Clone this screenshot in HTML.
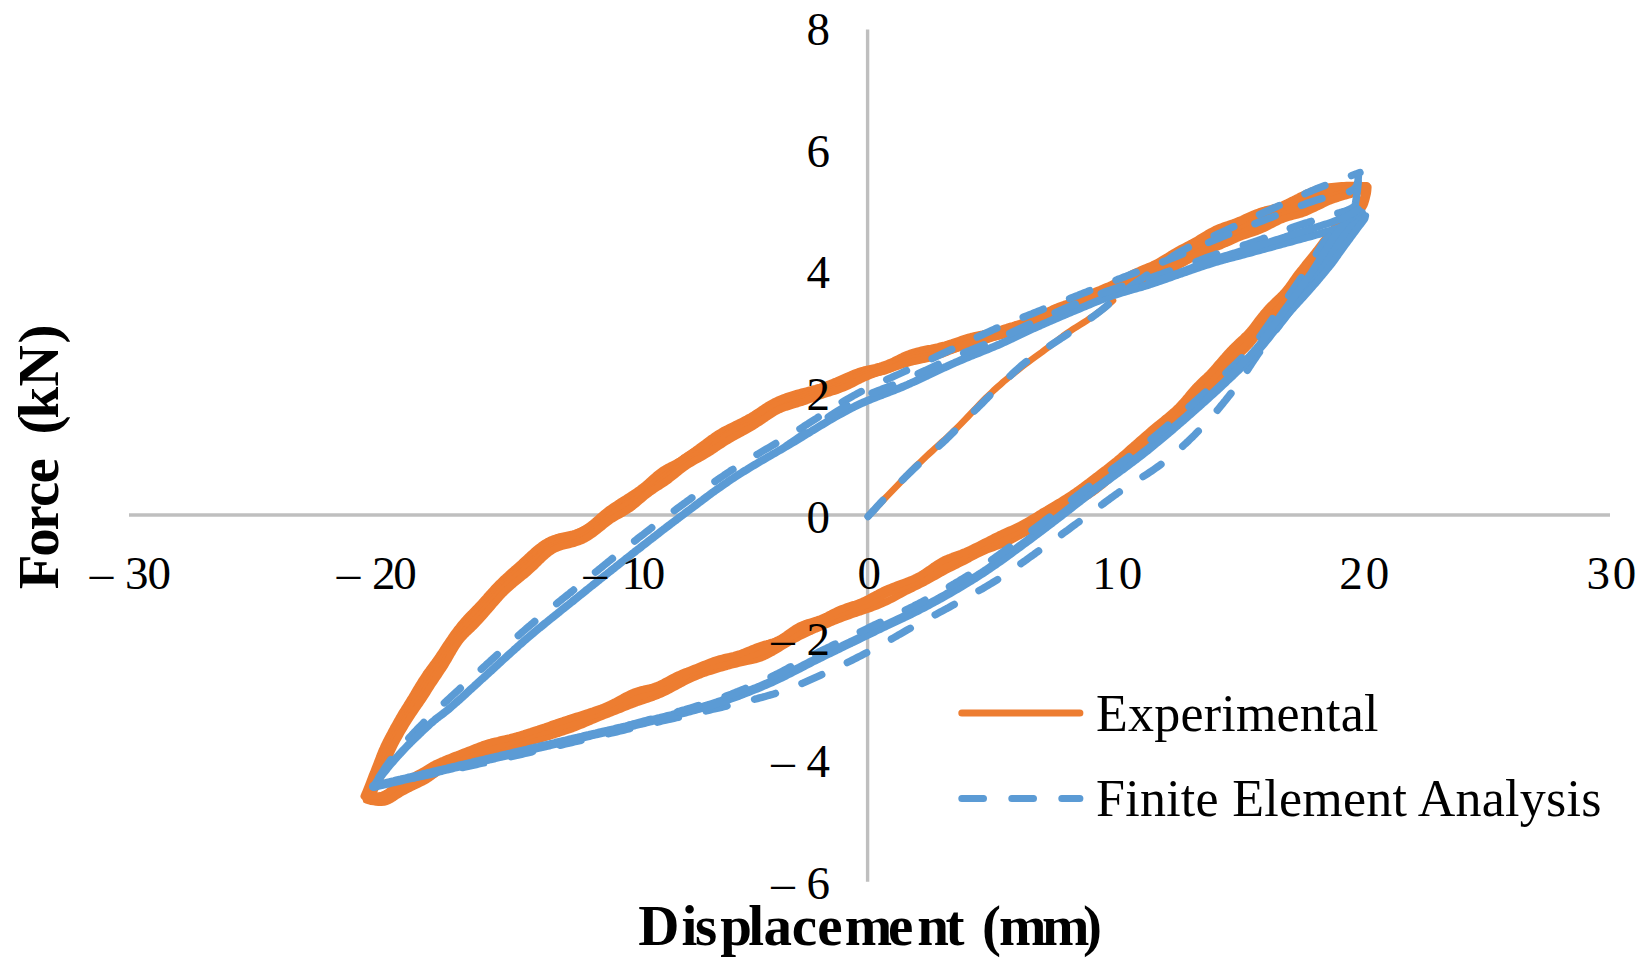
<!DOCTYPE html>
<html lang="en"><head><meta charset="utf-8"><title>Force vs Displacement</title>
<style>
html,body{margin:0;padding:0;background:#fff;}
body{width:1649px;height:974px;overflow:hidden;font-family:"Liberation Serif","Times New Roman",serif;}
svg{display:block;}
.c path{fill:none;stroke-linecap:round;stroke-linejoin:round;}
text{font-family:"Liberation Serif","Times New Roman",serif;fill:#000;}
.tk text{font-size:47px;}
.ttl{font-weight:bold;font-size:57px;}
.lg{font-size:52px;}
</style></head><body>
<svg width="1649" height="974" viewBox="0 0 1649 974">
<rect width="1649" height="974" fill="#fff"/>
<g stroke="#BFBFBF" stroke-width="3.4" fill="none">
<line x1="129" y1="515" x2="1610" y2="515"/>
<line x1="867.6" y1="29.6" x2="867.6" y2="881.8"/>
</g>
<g class="c">
<path d="M868.0,516.5 L870.8,513.4 L873.6,510.4 L876.4,507.4 L879.2,504.4 L882.0,501.4 L884.9,498.4 L887.7,495.5 L890.6,492.5 L893.5,489.5 L896.4,486.5 L899.3,483.4 L902.2,480.4 L905.1,477.3 L908.0,474.3 L911.0,471.2 L914.0,468.2 L917.0,465.2 L920.1,462.3 L923.2,459.3 L926.3,456.4 L929.4,453.5 L932.5,450.7 L935.5,447.9 L938.6,445.1 L941.7,442.3 L944.7,439.6 L947.7,436.8 L950.6,434.0 L953.6,431.2 L956.5,428.4 L959.4,425.5 L962.3,422.5 L965.2,419.5 L968.2,416.4 L971.1,413.3 L974.0,410.2 L976.9,407.2 L979.9,404.1 L982.8,401.1 L985.7,398.2 L988.7,395.3 L991.6,392.5 L994.5,389.7 L997.5,387.0 L1000.5,384.4 L1003.4,381.8 L1006.5,379.3 L1009.5,376.8 L1012.5,374.3 L1015.6,371.9 L1018.7,369.4 L1021.8,367.0 L1025.0,364.5 L1028.2,362.1 L1031.5,359.7 L1034.9,357.2 L1038.4,354.6 L1041.9,352.1 L1045.4,349.4 L1048.9,346.8 L1052.4,344.2 L1055.9,341.5 L1059.4,338.9 L1062.8,336.3 L1066.3,333.8 L1069.7,331.4 L1073.2,329.1 L1076.6,326.9 L1080.1,324.7 L1083.5,322.6 L1086.9,320.4 L1090.3,318.1 L1093.6,315.9 L1097.0,313.5 L1100.3,311.1 L1103.5,308.6 L1106.7,306.0 L1109.9,303.3 L1113.0,300.5" stroke="#ED7D31" stroke-width="6.6"/>
<path d="M1366.6,185.6 L1364.1,185.6 L1361.6,185.6 L1359.1,185.6 L1356.6,185.6 L1354.2,185.5 L1351.7,185.5 L1349.2,185.4 L1346.7,185.5 L1344.2,185.7 L1341.7,185.8 L1339.2,186.0 L1336.8,186.2 L1334.3,186.4 L1331.8,186.6 L1329.3,186.9 L1326.9,187.2 L1324.4,187.6 L1321.9,188.0 L1319.5,188.5 L1317.0,189.1 L1314.6,189.9 L1312.1,190.8 L1309.8,191.8 L1307.4,192.8 L1305.1,193.9 L1302.7,195.0 L1300.4,196.1 L1298.2,197.3 L1295.9,198.4 L1293.7,199.6 L1291.4,200.7 L1289.2,201.8 L1287.0,202.9 L1284.8,203.9 L1282.7,204.9 L1280.5,205.7 L1278.3,206.5 L1276.1,207.2 L1273.9,207.8 L1271.6,208.5 L1269.3,209.0 L1267.1,209.6 L1264.8,210.2 L1262.5,210.9 L1260.2,211.6 L1257.9,212.4 L1255.6,213.3 L1253.3,214.2 L1251.1,215.2 L1248.8,216.2 L1246.5,217.2 L1244.2,218.2 L1242.0,219.3 L1239.7,220.3 L1237.4,221.2 L1235.1,222.1 L1232.8,223.0 L1230.6,223.8 L1228.3,224.6 L1226.0,225.3 L1223.7,226.1 L1221.5,226.9 L1219.2,227.8 L1217.0,228.7 L1214.7,229.7 L1212.5,230.9 L1210.3,232.1 L1208.1,233.3 L1205.9,234.6 L1203.8,235.9 L1201.6,237.2 L1199.5,238.5 L1197.4,239.8 L1195.2,241.1 L1193.1,242.2 L1191.0,243.4 L1188.9,244.5 L1186.8,245.6 L1184.7,246.7 L1182.6,247.8 L1180.5,248.9 L1178.4,250.0 L1176.3,251.2 L1174.2,252.4 L1172.1,253.7 L1169.9,255.0 L1167.8,256.4 L1165.6,257.7 L1163.5,259.0 L1161.3,260.3 L1159.2,261.6 L1157.0,262.7 L1154.8,263.8 L1152.7,264.9 L1150.5,265.8 L1148.3,266.7 L1146.2,267.6 L1144.0,268.5 L1141.8,269.4 L1139.6,270.4 L1137.4,271.3 L1135.2,272.3 L1133.0,273.4 L1130.8,274.5 L1128.6,275.7 L1126.4,276.9 L1124.2,278.1 L1122.0,279.2 L1119.8,280.4 L1117.6,281.6 L1115.4,282.7 L1113.1,283.7 L1110.9,284.8 L1108.7,285.8 L1106.5,286.7 L1104.2,287.7 L1102.0,288.6 L1099.8,289.6 L1097.6,290.5 L1095.3,291.5 L1093.1,292.5 L1090.9,293.5 L1088.7,294.6 L1086.4,295.6 L1084.2,296.7 L1082.0,297.7 L1079.8,298.7 L1077.6,299.7 L1075.4,300.6 L1073.2,301.4 L1070.9,302.2 L1068.7,303.0 L1066.5,303.7 L1064.3,304.4 L1062.1,305.2 L1059.9,306.0 L1057.7,306.8 L1055.5,307.7 L1053.3,308.6 L1051.1,309.7 L1048.9,310.8 L1046.7,311.9 L1044.5,313.0 L1042.3,314.2 L1040.1,315.3 L1037.8,316.5 L1035.6,317.5 L1033.4,318.5 L1031.1,319.5 L1028.8,320.4 L1026.6,321.2 L1024.3,322.0 L1022.0,322.7 L1019.7,323.5 L1017.4,324.2 L1015.1,324.9 L1012.7,325.7 L1010.4,326.4 L1008.1,327.1 L1005.8,327.9 L1003.4,328.6 L1001.1,329.4 L998.8,330.1 L996.4,330.8 L994.1,331.4 L991.7,332.0 L989.4,332.6 L987.1,333.2 L984.7,333.7 L982.4,334.2 L980.1,334.6 L977.8,335.1 L975.4,335.6 L973.1,336.2 L970.8,336.7 L968.4,337.4 L966.1,338.1 L963.8,338.8 L961.4,339.6 L959.1,340.4 L956.8,341.2 L954.4,342.0 L952.1,342.8 L949.8,343.5 L947.4,344.3 L945.1,345.0 L942.7,345.6 L940.4,346.2 L938.1,346.8 L935.7,347.3 L933.4,347.8 L931.1,348.3 L928.7,348.7 L926.3,349.2 L924.0,349.7 L921.6,350.2 L919.2,350.8 L916.8,351.4 L914.4,352.0 L912.0,352.8 L909.6,353.6 L907.3,354.5 L904.9,355.5 L902.6,356.5 L900.3,357.6 L898.1,358.7 L895.8,359.8 L893.5,361.0 L891.3,362.0 L889.0,363.0 L886.8,364.0 L884.5,364.8 L882.2,365.6 L879.9,366.3 L877.6,366.9 L875.3,367.5 L873.0,368.0 L870.6,368.5 L868.3,369.0 L866.0,369.6 L863.7,370.2 L861.4,370.9 L859.0,371.6 L856.7,372.4 L854.4,373.3 L852.2,374.2 L849.9,375.2 L847.6,376.1 L845.3,377.1 L843.1,378.1 L840.8,379.1 L838.5,380.1 L836.2,381.1 L833.9,382.0 L831.7,383.0 L829.4,383.9 L827.1,384.8 L824.8,385.6 L822.5,386.4 L820.2,387.2 L817.9,387.9 L815.6,388.6 L813.3,389.2 L811.0,389.8 L808.7,390.4 L806.4,391.0 L804.1,391.6 L801.8,392.2 L799.6,392.8 L797.3,393.4 L795.0,394.1 L792.6,394.8 L790.3,395.5 L787.9,396.3 L785.5,397.1 L783.1,398.0 L780.8,398.9 L778.4,399.9 L776.0,401.0 L773.7,402.1 L771.4,403.4 L769.2,404.7 L767.0,406.0 L764.9,407.4 L762.8,408.8 L760.7,410.2 L758.7,411.6 L756.7,412.9 L754.7,414.2 L752.7,415.5 L750.7,416.7 L748.6,417.8 L746.5,419.0 L744.4,420.1 L742.3,421.2 L740.1,422.3 L738.0,423.4 L735.8,424.4 L733.6,425.5 L731.5,426.5 L729.3,427.6 L727.1,428.7 L725.0,429.8 L722.9,430.9 L720.8,432.2 L718.7,433.4 L716.6,434.7 L714.6,436.1 L712.6,437.5 L710.5,438.9 L708.5,440.4 L706.5,441.9 L704.5,443.4 L702.4,444.9 L700.4,446.4 L698.4,448.0 L696.3,449.5 L694.3,451.1 L692.2,452.6 L690.2,454.1 L688.1,455.6 L686.1,457.0 L684.0,458.4 L682.0,459.7 L679.9,460.9 L677.9,462.1 L675.8,463.2 L673.8,464.2 L671.8,465.2 L669.8,466.3 L667.8,467.3 L665.8,468.4 L663.8,469.6 L661.8,470.9 L659.8,472.4 L657.9,473.9 L655.9,475.5 L653.9,477.2 L651.9,479.0 L650.0,480.7 L648.0,482.5 L646.0,484.2 L644.1,485.9 L642.1,487.4 L640.1,489.0 L638.2,490.4 L636.2,491.8 L634.2,493.1 L632.2,494.5 L630.3,495.7 L628.3,497.0 L626.3,498.2 L624.4,499.5 L622.4,500.7 L620.4,501.9 L618.5,503.2 L616.5,504.5 L614.5,505.8 L612.6,507.1 L610.6,508.5 L608.6,509.9 L606.6,511.5 L604.5,513.1 L602.5,514.8 L600.5,516.5 L598.6,518.3 L596.6,520.0 L594.6,521.8 L592.7,523.4 L590.7,525.0 L588.7,526.5 L586.8,527.9 L584.8,529.1 L582.8,530.2 L580.9,531.2 L578.9,532.1 L576.9,532.8 L574.8,533.5 L572.7,534.1 L570.5,534.6 L568.2,535.1 L565.9,535.6 L563.5,536.1 L561.1,536.6 L558.7,537.2 L556.3,537.9 L553.9,538.7 L551.6,539.6 L549.3,540.7 L547.0,541.9 L544.8,543.2 L542.7,544.6 L540.6,546.1 L538.5,547.7 L536.4,549.4 L534.4,551.1 L532.4,552.9 L530.5,554.6 L528.5,556.4 L526.6,558.2 L524.7,559.9 L522.8,561.7 L521.0,563.4 L519.2,565.0 L517.3,566.7 L515.5,568.3 L513.6,569.9 L511.8,571.5 L510.0,573.1 L508.2,574.8 L506.4,576.4 L504.7,578.0 L502.9,579.6 L501.2,581.3 L499.5,583.0 L497.7,584.7 L496.0,586.5 L494.3,588.3 L492.7,590.1 L491.0,592.0 L489.3,593.9 L487.6,595.7 L486.0,597.6 L484.3,599.5 L482.6,601.4 L481.0,603.2 L479.3,605.0 L477.6,606.8 L475.9,608.5 L474.3,610.2 L472.6,612.0 L471.0,613.7 L469.3,615.4 L467.7,617.1 L466.0,618.9 L464.4,620.7 L462.8,622.6 L461.2,624.5 L459.6,626.4 L458.1,628.4 L456.5,630.4 L455.0,632.4 L453.5,634.5 L452.0,636.6 L450.6,638.7 L449.1,640.9 L447.7,643.0 L446.2,645.2 L444.8,647.3 L443.4,649.5 L442.1,651.6 L440.7,653.7 L439.3,655.7 L438.0,657.7 L436.6,659.6 L435.3,661.5 L434.0,663.3 L432.6,665.1 L431.3,666.9 L430.0,668.7 L428.7,670.5 L427.3,672.3 L426.0,674.2 L424.7,676.2 L423.4,678.2 L422.0,680.3 L420.7,682.4 L419.4,684.6 L418.0,686.8 L416.7,689.0 L415.4,691.2 L414.1,693.4 L412.9,695.5 L411.6,697.6 L410.3,699.6 L409.1,701.6 L407.8,703.7 L406.6,705.7 L405.3,707.7 L404.1,709.7 L402.8,711.7 L401.6,713.7 L400.4,715.8 L399.1,718.0 L397.9,720.2 L396.6,722.4 L395.4,724.6 L394.1,726.8 L392.9,729.1 L391.7,731.3 L390.6,733.5 L389.4,735.6 L388.3,737.7 L387.2,739.9 L386.1,742.0 L385.1,744.1 L384.1,746.2 L383.2,748.3 L382.2,750.4 L381.3,752.6 L380.4,754.8 L379.6,757.1 L378.7,759.4 L377.8,761.7 L376.9,764.0 L376.0,766.3 L375.1,768.6 L374.2,771.0 L373.3,773.3 L372.3,775.6 L371.4,778.0 L370.5,780.3 L369.6,782.7 L368.7,785.0 L367.8,787.3 L366.9,789.6 L366.0,791.8 L365.1,794.0 L364.2,796.2" stroke="#ED7D31" stroke-width="7.4"/>
<path d="M1366.7,187.0 L1364.3,187.4 L1361.8,187.8 L1359.3,188.1 L1356.9,188.3 L1354.5,188.5 L1352.0,188.6 L1349.6,188.7 L1347.1,188.9 L1344.7,189.1 L1342.3,189.2 L1339.8,189.4 L1337.4,189.5 L1335.0,189.7 L1332.5,189.9 L1330.1,190.1 L1327.7,190.4 L1325.3,190.7 L1322.9,191.1 L1320.5,191.6 L1318.1,192.1 L1315.8,192.9 L1313.4,193.7 L1311.1,194.6 L1308.8,195.6 L1306.5,196.6 L1304.2,197.7 L1302.0,198.9 L1299.7,200.1 L1297.5,201.3 L1295.2,202.5 L1293.0,203.7 L1290.8,205.0 L1288.6,206.1 L1286.3,207.2 L1284.1,208.2 L1281.9,209.2 L1279.7,210.0 L1277.5,210.7 L1275.2,211.3 L1273.0,211.9 L1270.7,212.4 L1268.4,212.9 L1266.1,213.4 L1263.8,214.0 L1261.6,214.7 L1259.3,215.4 L1257.0,216.2 L1254.7,217.1 L1252.5,218.1 L1250.2,219.2 L1247.9,220.3 L1245.7,221.4 L1243.4,222.5 L1241.1,223.6 L1238.9,224.7 L1236.6,225.8 L1234.3,226.8 L1232.1,227.8 L1229.8,228.8 L1227.5,229.7 L1225.3,230.7 L1223.1,231.7 L1220.8,232.7 L1218.6,233.7 L1216.4,234.9 L1214.1,236.1 L1212.0,237.3 L1209.8,238.6 L1207.6,239.9 L1205.4,241.2 L1203.3,242.5 L1201.1,243.9 L1199.0,245.2 L1196.9,246.4 L1194.7,247.7 L1192.6,248.8 L1190.5,250.0 L1188.4,251.1 L1186.2,252.2 L1184.1,253.3 L1182.0,254.3 L1179.8,255.3 L1177.7,256.3 L1175.5,257.3 L1173.4,258.3 L1171.2,259.2 L1169.0,260.2 L1166.9,261.2 L1164.7,262.2 L1162.5,263.2 L1160.4,264.2 L1158.2,265.2 L1156.0,266.2 L1153.8,267.2 L1151.6,268.3 L1149.4,269.3 L1147.2,270.3 L1145.0,271.4 L1142.8,272.4 L1140.6,273.4 L1138.4,274.4 L1136.2,275.4 L1134.0,276.4 L1131.8,277.3 L1129.6,278.2 L1127.4,279.2 L1125.1,280.2 L1122.9,281.1 L1120.7,282.2 L1118.5,283.2 L1116.2,284.3 L1114.0,285.4 L1111.8,286.6 L1109.5,287.8 L1107.3,289.0 L1105.1,290.2 L1102.8,291.3 L1100.6,292.5 L1098.4,293.5 L1096.1,294.6 L1093.9,295.5 L1091.7,296.4 L1089.4,297.2 L1087.2,298.0 L1085.0,298.8 L1082.8,299.5 L1080.6,300.3 L1078.3,301.1 L1076.1,302.0 L1073.9,302.9 L1071.7,303.8 L1069.5,304.8 L1067.3,305.8 L1065.1,306.9 L1062.9,307.9 L1060.7,309.0 L1058.5,310.1 L1056.3,311.2 L1054.1,312.3 L1051.9,313.4 L1049.6,314.4 L1047.4,315.5 L1045.2,316.5 L1043.0,317.5 L1040.7,318.4 L1038.5,319.3 L1036.2,320.2 L1034.0,321.0 L1031.7,321.8 L1029.4,322.5 L1027.1,323.2 L1024.8,323.9 L1022.5,324.6 L1020.2,325.3 L1017.9,326.0 L1015.6,326.6 L1013.3,327.3 L1010.9,328.0 L1008.6,328.7 L1006.3,329.4 L1003.9,330.1 L1001.6,330.8 L999.3,331.5 L996.9,332.2 L994.6,332.8 L992.3,333.5 L989.9,334.1 L987.6,334.7 L985.3,335.3 L982.9,335.8 L980.6,336.4 L978.3,337.0 L975.9,337.5 L973.6,338.2 L971.3,338.8 L968.9,339.5 L966.6,340.2 L964.3,341.0 L961.9,341.8 L959.6,342.6 L957.3,343.4 L954.9,344.2 L952.6,345.0 L950.2,345.7 L947.9,346.4 L945.6,347.1 L943.2,347.7 L940.9,348.2 L938.5,348.8 L936.2,349.3 L933.8,349.8 L931.5,350.3 L929.1,350.9 L926.8,351.4 L924.4,352.1 L922.0,352.8 L919.6,353.5 L917.3,354.3 L914.9,355.2 L912.5,356.1 L910.2,357.0 L907.9,358.0 L905.6,359.0 L903.3,359.9 L901.0,360.8 L898.7,361.7 L896.4,362.5 L894.2,363.3 L891.9,364.1 L889.6,364.9 L887.4,365.5 L885.1,366.2 L882.8,366.9 L880.5,367.6 L878.2,368.2 L875.9,368.9 L873.5,369.5 L871.2,370.2 L868.9,371.0 L866.6,371.7 L864.3,372.5 L862.0,373.4 L859.7,374.3 L857.4,375.2 L855.1,376.2 L852.9,377.1 L850.6,378.1 L848.3,379.1 L846.0,380.0 L843.8,380.8 L841.5,381.7 L839.2,382.4 L836.9,383.2 L834.7,383.8 L832.4,384.5 L830.1,385.2 L827.8,385.9 L825.5,386.6 L823.2,387.3 L820.9,388.1 L818.6,389.0 L816.3,389.9 L814.0,390.8 L811.8,391.8 L809.5,392.8 L807.2,393.7 L804.9,394.7 L802.6,395.6 L800.3,396.4 L798.0,397.2 L795.6,397.8 L793.3,398.4 L790.9,399.0 L788.6,399.5 L786.2,400.1 L783.9,400.7 L781.6,401.4 L779.3,402.2 L777.0,403.2 L774.7,404.3 L772.5,405.5 L770.4,406.9 L768.2,408.3 L766.2,409.7 L764.1,411.2 L762.0,412.6 L760.0,414.0 L758.0,415.3 L756.0,416.5 L753.9,417.5 L751.9,418.5 L749.8,419.4 L747.7,420.3 L745.5,421.2 L743.4,422.2 L741.2,423.2 L739.1,424.2 L736.9,425.4 L734.8,426.7 L732.6,428.0 L730.5,429.4 L728.3,430.9 L726.2,432.4 L724.1,433.9 L722.1,435.4 L720.0,436.8 L717.9,438.1 L715.9,439.4 L713.9,440.6 L711.8,441.8 L709.8,442.9 L707.8,444.0 L705.8,445.0 L703.7,446.1 L701.7,447.2 L699.7,448.2 L697.6,449.4 L695.6,450.5 L693.5,451.8 L691.5,453.0 L689.4,454.3 L687.4,455.6 L685.3,457.0 L683.3,458.4 L681.3,459.9 L679.2,461.4 L677.2,463.0 L675.2,464.6 L673.2,466.2 L671.2,467.8 L669.2,469.4 L667.2,471.0 L665.2,472.5 L663.2,474.0 L661.3,475.5 L659.3,476.9 L657.3,478.3 L655.4,479.7 L653.4,481.0 L651.4,482.3 L649.5,483.7 L647.5,485.0 L645.5,486.4 L643.6,487.7 L641.6,489.2 L639.6,490.6 L637.6,492.1 L635.7,493.6 L633.7,495.1 L631.7,496.7 L629.7,498.3 L627.8,500.0 L625.8,501.6 L623.8,503.4 L621.9,505.1 L619.9,506.8 L617.9,508.5 L616.0,510.1 L614.0,511.7 L612.0,513.3 L610.0,514.7 L608.0,516.1 L606.0,517.4 L604.0,518.6 L602.0,519.7 L600.0,520.8 L598.0,521.9 L596.1,522.9 L594.1,524.0 L592.1,525.0 L590.1,526.1 L588.1,527.2 L586.1,528.3 L584.1,529.5 L582.0,530.6 L580.0,531.7 L577.9,532.7 L575.8,533.7 L573.5,534.7 L571.3,535.6 L569.0,536.5 L566.6,537.3 L564.3,538.2 L561.9,539.1 L559.6,540.0 L557.2,540.9 L554.9,541.9 L552.6,543.0 L550.4,544.1 L548.3,545.4 L546.1,546.7 L544.0,548.0 L542.0,549.5 L540.0,550.9 L537.9,552.4 L536.0,554.0 L534.0,555.5 L532.1,557.1 L530.2,558.7 L528.3,560.3 L526.4,561.9 L524.5,563.4 L522.7,565.0 L520.8,566.5 L519.0,568.1 L517.2,569.6 L515.4,571.1 L513.6,572.7 L511.8,574.3 L510.0,576.0 L508.2,577.7 L506.5,579.4 L504.7,581.1 L503.0,582.8 L501.3,584.6 L499.6,586.4 L497.9,588.2 L496.2,590.0 L494.5,591.9 L492.8,593.7 L491.2,595.6 L489.5,597.5 L487.8,599.4 L486.2,601.2 L484.5,603.1 L482.8,604.9 L481.2,606.8 L479.5,608.6 L477.8,610.5 L476.2,612.3 L474.5,614.1 L472.9,615.9 L471.2,617.7 L469.6,619.4 L468.0,621.2 L466.4,622.9 L464.8,624.6 L463.2,626.3 L461.6,628.0 L460.1,629.7 L458.6,631.4 L457.0,633.2 L455.6,635.0 L454.1,636.8 L452.6,638.7 L451.2,640.7 L449.8,642.7 L448.4,644.8 L447.0,646.9 L445.6,649.0 L444.2,651.2 L442.8,653.3 L441.5,655.5 L440.1,657.7 L438.8,659.8 L437.5,662.0 L436.1,664.1 L434.8,666.2 L433.5,668.3 L432.2,670.3 L430.8,672.3 L429.5,674.3 L428.2,676.3 L426.9,678.2 L425.5,680.1 L424.2,682.0 L422.9,683.9 L421.5,685.8 L420.2,687.7 L418.9,689.6 L417.6,691.6 L416.3,693.6 L415.0,695.7 L413.7,697.9 L412.5,700.1 L411.2,702.3 L409.9,704.6 L408.6,706.9 L407.4,709.1 L406.1,711.3 L404.9,713.5 L403.6,715.6 L402.4,717.7 L401.1,719.7 L399.8,721.6 L398.6,723.6 L397.3,725.5 L396.1,727.5 L394.9,729.5 L393.7,731.5 L392.5,733.6 L391.3,735.8 L390.2,738.1 L389.1,740.5 L388.1,742.9 L387.0,745.4 L386.1,747.9 L385.1,750.3 L384.2,752.8 L383.2,755.2 L382.3,757.6 L381.4,759.9 L380.5,762.2 L379.7,764.4 L378.8,766.6 L377.8,768.7 L376.9,770.8 L376.0,772.9 L375.0,775.0 L374.1,777.0 L373.1,779.1 L372.1,781.2 L371.2,783.4 L370.2,785.5 L369.3,787.7 L368.3,789.9 L367.3,792.2 L366.3,794.6 L365.3,797.0" stroke="#ED7D31" stroke-width="7.4"/>
<path d="M1366.8,186.5 L1364.4,187.1 L1362.0,187.6 L1359.6,188.1 L1357.2,188.6 L1354.7,189.0 L1352.4,189.4 L1350.0,189.7 L1347.6,190.0 L1345.2,190.4 L1342.8,190.7 L1340.4,191.0 L1338.0,191.3 L1335.7,191.7 L1333.3,192.0 L1330.9,192.4 L1328.6,192.9 L1326.2,193.4 L1323.9,193.9 L1321.6,194.5 L1319.3,195.1 L1317.0,195.9 L1314.7,196.7 L1312.5,197.7 L1310.2,198.7 L1307.9,199.7 L1305.7,200.8 L1303.5,202.0 L1301.2,203.2 L1299.0,204.5 L1296.8,205.7 L1294.6,207.0 L1292.3,208.2 L1290.1,209.4 L1287.9,210.5 L1285.6,211.5 L1283.4,212.5 L1281.1,213.3 L1278.9,214.0 L1276.6,214.6 L1274.3,215.1 L1272.0,215.6 L1269.8,216.1 L1267.5,216.6 L1265.2,217.3 L1262.9,218.0 L1260.7,218.8 L1258.4,219.8 L1256.1,220.9 L1253.9,222.2 L1251.6,223.4 L1249.3,224.7 L1247.1,226.0 L1244.8,227.3 L1242.6,228.5 L1240.3,229.6 L1238.1,230.5 L1235.8,231.3 L1233.6,232.0 L1231.3,232.6 L1229.1,233.2 L1226.8,233.8 L1224.6,234.4 L1222.4,235.1 L1220.2,235.9 L1218.0,236.9 L1215.8,238.0 L1213.6,239.2 L1211.5,240.6 L1209.3,242.0 L1207.1,243.5 L1205.0,245.0 L1202.8,246.4 L1200.7,247.8 L1198.5,249.1 L1196.4,250.2 L1194.2,251.3 L1192.1,252.3 L1189.9,253.2 L1187.8,254.1 L1185.6,255.0 L1183.4,255.8 L1181.3,256.7 L1179.1,257.7 L1176.9,258.7 L1174.7,259.9 L1172.5,261.1 L1170.3,262.3 L1168.1,263.6 L1165.9,264.8 L1163.7,266.1 L1161.6,267.4 L1159.4,268.6 L1157.1,269.7 L1154.9,270.9 L1152.7,271.9 L1150.5,272.9 L1148.3,273.9 L1146.1,274.8 L1143.9,275.7 L1141.7,276.5 L1139.4,277.3 L1137.2,278.0 L1135.0,278.8 L1132.8,279.5 L1130.5,280.2 L1128.3,280.9 L1126.1,281.7 L1123.8,282.5 L1121.6,283.3 L1119.3,284.2 L1117.1,285.2 L1114.8,286.3 L1112.6,287.4 L1110.4,288.6 L1108.1,289.8 L1105.9,291.1 L1103.6,292.4 L1101.4,293.7 L1099.1,294.9 L1096.9,296.1 L1094.7,297.3 L1092.4,298.4 L1090.2,299.5 L1088.0,300.5 L1085.8,301.5 L1083.5,302.5 L1081.3,303.4 L1079.1,304.4 L1076.9,305.3 L1074.7,306.2 L1072.5,307.1 L1070.3,308.0 L1068.1,308.8 L1065.9,309.7 L1063.7,310.6 L1061.4,311.4 L1059.2,312.3 L1057.0,313.2 L1054.8,314.1 L1052.6,315.0 L1050.3,315.9 L1048.1,316.8 L1045.9,317.7 L1043.6,318.6 L1041.4,319.5 L1039.1,320.4 L1036.9,321.3 L1034.6,322.1 L1032.3,323.0 L1030.0,323.8 L1027.7,324.6 L1025.4,325.4 L1023.1,326.2 L1020.8,327.0 L1018.4,327.7 L1016.1,328.4 L1013.8,329.0 L1011.5,329.6 L1009.1,330.2 L1006.8,330.7 L1004.5,331.3 L1002.1,331.8 L999.8,332.4 L997.4,333.0 L995.1,333.7 L992.8,334.4 L990.4,335.3 L988.1,336.1 L985.8,337.1 L983.4,338.0 L981.1,339.0 L978.8,339.9 L976.4,340.8 L974.1,341.7 L971.8,342.5 L969.4,343.2 L967.1,343.8 L964.8,344.4 L962.4,344.9 L960.1,345.3 L957.7,345.8 L955.4,346.2 L953.1,346.6 L950.7,347.1 L948.4,347.7 L946.0,348.2 L943.7,348.9 L941.3,349.6 L939.0,350.3 L936.6,351.0 L934.3,351.7 L931.9,352.3 L929.5,352.9 L927.2,353.5 L924.8,354.1 L922.4,354.6 L920.1,355.2 L917.7,355.7 L915.4,356.2 L913.1,356.8 L910.8,357.5 L908.5,358.2 L906.2,358.9 L903.9,359.7 L901.6,360.6 L899.4,361.5 L897.1,362.4 L894.8,363.4 L892.5,364.3 L890.2,365.1 L887.9,366.0 L885.7,366.7 L883.4,367.5 L881.1,368.2 L878.7,368.8 L876.4,369.5 L874.1,370.1 L871.8,370.8 L869.5,371.5 L867.2,372.3 L865.0,373.1 L862.7,374.1 L860.4,375.1 L858.1,376.2 L855.8,377.4 L853.6,378.6 L851.3,379.8 L849.0,381.0 L846.8,382.1 L844.5,383.1 L842.2,384.1 L839.9,385.0 L837.7,385.7 L835.4,386.4 L833.1,387.1 L830.8,387.7 L828.5,388.3 L826.2,389.0 L823.9,389.6 L821.7,390.3 L819.4,391.1 L817.1,392.0 L814.8,392.9 L812.5,393.8 L810.2,394.8 L807.9,395.7 L805.6,396.7 L803.3,397.6 L801.0,398.5 L798.7,399.3 L796.3,400.0 L794.0,400.7 L791.6,401.3 L789.3,401.9 L786.9,402.5 L784.6,403.1 L782.4,403.8 L780.1,404.5 L777.9,405.3 L775.8,406.2 L773.6,407.2 L771.6,408.3 L769.5,409.5 L767.4,410.8 L765.4,412.1 L763.4,413.4 L761.3,414.7 L759.3,416.1 L757.2,417.4 L755.1,418.8 L753.0,420.0 L750.9,421.3 L748.8,422.5 L746.6,423.7 L744.5,424.9 L742.3,426.0 L740.2,427.2 L738.0,428.3 L735.9,429.5 L733.8,430.6 L731.6,431.8 L729.5,432.9 L727.5,434.1 L725.4,435.4 L723.3,436.7 L721.3,438.0 L719.3,439.3 L717.2,440.7 L715.2,442.1 L713.2,443.5 L711.1,444.9 L709.1,446.4 L707.1,447.8 L705.0,449.2 L703.0,450.5 L701.0,451.9 L698.9,453.2 L696.9,454.4 L694.8,455.7 L692.8,457.0 L690.7,458.2 L688.7,459.5 L686.7,460.8 L684.6,462.1 L682.6,463.4 L680.6,464.8 L678.6,466.1 L676.6,467.5 L674.6,469.0 L672.6,470.4 L670.6,471.8 L668.6,473.2 L666.6,474.6 L664.7,476.0 L662.7,477.4 L660.7,478.7 L658.8,480.1 L656.8,481.4 L654.8,482.7 L652.9,484.0 L650.9,485.3 L648.9,486.6 L647.0,487.9 L645.0,489.3 L643.0,490.6 L641.0,492.0 L639.1,493.4 L637.1,494.9 L635.1,496.4 L633.2,497.9 L631.2,499.5 L629.2,501.1 L627.3,502.8 L625.3,504.5 L623.3,506.2 L621.4,507.9 L619.4,509.7 L617.4,511.4 L615.4,513.0 L613.4,514.6 L611.4,516.1 L609.4,517.6 L607.4,518.9 L605.5,520.2 L603.5,521.5 L601.5,522.7 L599.5,523.9 L597.5,525.0 L595.5,526.1 L593.5,527.2 L591.5,528.3 L589.5,529.4 L587.4,530.6 L585.3,531.7 L583.2,532.8 L581.1,533.8 L578.9,534.8 L576.7,535.8 L574.4,536.7 L572.1,537.6 L569.8,538.5 L567.4,539.3 L565.1,540.2 L562.7,541.1 L560.4,542.0 L558.1,543.0 L555.9,544.0 L553.7,545.2 L551.6,546.4 L549.5,547.7 L547.5,549.1 L545.4,550.6 L543.4,552.2 L541.4,553.7 L539.5,555.3 L537.5,556.9 L535.6,558.5 L533.7,560.0 L531.8,561.4 L529.9,562.9 L528.0,564.2 L526.2,565.5 L524.3,566.8 L522.5,568.1 L520.7,569.3 L518.9,570.6 L517.1,572.0 L515.3,573.4 L513.5,575.0 L511.7,576.7 L510.0,578.5 L508.3,580.3 L506.5,582.2 L504.8,584.1 L503.1,586.1 L501.4,588.0 L499.7,589.9 L498.0,591.8 L496.4,593.7 L494.7,595.5 L493.0,597.3 L491.4,599.0 L489.7,600.7 L488.0,602.4 L486.4,604.0 L484.7,605.6 L483.0,607.2 L481.4,608.8 L479.7,610.4 L478.1,612.0 L476.4,613.7 L474.8,615.3 L473.1,617.0 L471.5,618.8 L469.9,620.7 L468.3,622.6 L466.7,624.6 L465.2,626.7 L463.6,628.8 L462.1,631.0 L460.6,633.2 L459.1,635.4 L457.6,637.6 L456.2,639.7 L454.7,641.8 L453.3,643.9 L451.9,645.9 L450.5,647.8 L449.1,649.7 L447.7,651.6 L446.3,653.5 L445.0,655.4 L443.6,657.3 L442.3,659.2 L441.0,661.2 L439.6,663.2 L438.3,665.3 L437.0,667.3 L435.7,669.4 L434.3,671.5 L433.0,673.6 L431.7,675.7 L430.4,677.7 L429.0,679.7 L427.7,681.6 L426.4,683.6 L425.0,685.5 L423.7,687.4 L422.4,689.3 L421.1,691.3 L419.8,693.3 L418.5,695.3 L417.2,697.4 L415.9,699.5 L414.6,701.7 L413.3,703.9 L412.0,706.1 L410.7,708.3 L409.5,710.6 L408.2,712.8 L406.9,714.9 L405.7,717.1 L404.4,719.1 L403.1,721.1 L401.8,723.1 L400.5,725.1 L399.3,727.0 L398.0,729.0 L396.8,731.0 L395.6,733.0 L394.4,735.0 L393.3,737.1 L392.1,739.2 L391.0,741.4 L390.0,743.7 L389.0,745.9 L388.0,748.2 L387.0,750.5 L386.1,752.8 L385.1,755.1 L384.2,757.3 L383.3,759.6 L382.4,761.8 L381.5,763.9 L380.6,766.1 L379.7,768.2 L378.7,770.4 L377.8,772.5 L376.8,774.6 L375.8,776.7 L374.8,778.8 L373.8,780.9 L372.8,783.0 L371.7,785.2 L370.7,787.3 L369.7,789.5 L368.6,791.8 L367.6,794.1 L366.5,796.4" stroke="#ED7D31" stroke-width="7.4"/>
<path d="M1366.9,189.0 L1364.5,189.1 L1362.1,189.3 L1359.8,189.5 L1357.4,189.8 L1355.0,190.2 L1352.7,190.7 L1350.4,191.3 L1348.0,191.8 L1345.7,192.4 L1343.3,193.0 L1341.0,193.7 L1338.7,194.5 L1336.4,195.2 L1334.0,196.0 L1331.7,196.8 L1329.4,197.6 L1327.2,198.5 L1324.9,199.3 L1322.6,200.1 L1320.4,200.9 L1318.2,201.6 L1316.0,202.4 L1313.8,203.2 L1311.6,204.0 L1309.4,204.9 L1307.2,205.7 L1305.0,206.6 L1302.8,207.6 L1300.6,208.5 L1298.3,209.5 L1296.1,210.4 L1293.9,211.4 L1291.6,212.4 L1289.4,213.3 L1287.1,214.3 L1284.8,215.2 L1282.5,216.1 L1280.2,216.9 L1277.9,217.8 L1275.7,218.6 L1273.4,219.4 L1271.1,220.3 L1268.8,221.1 L1266.6,222.0 L1264.3,222.9 L1262.1,223.8 L1259.8,224.8 L1257.5,225.8 L1255.3,226.9 L1253.0,227.9 L1250.8,229.0 L1248.5,230.0 L1246.3,231.0 L1244.0,232.0 L1241.8,233.0 L1239.5,233.9 L1237.3,234.8 L1235.1,235.6 L1232.8,236.5 L1230.6,237.3 L1228.4,238.1 L1226.2,239.0 L1224.0,239.8 L1221.8,240.7 L1219.6,241.6 L1217.5,242.6 L1215.3,243.6 L1213.1,244.6 L1211.0,245.7 L1208.8,246.8 L1206.6,247.9 L1204.5,249.0 L1202.3,250.2 L1200.2,251.3 L1198.0,252.4 L1195.8,253.5 L1193.6,254.6 L1191.5,255.7 L1189.3,256.8 L1187.1,257.9 L1184.9,259.0 L1182.7,260.1 L1180.4,261.3 L1178.2,262.4 L1176.0,263.5 L1173.8,264.7 L1171.6,265.8 L1169.4,267.0 L1167.2,268.1 L1165.0,269.3 L1162.7,270.4 L1160.5,271.5 L1158.3,272.5 L1156.1,273.5 L1153.9,274.5 L1151.6,275.4 L1149.4,276.4 L1147.2,277.3 L1144.9,278.2 L1142.7,279.1 L1140.5,280.0 L1138.2,280.9 L1136.0,281.8 L1133.7,282.7 L1131.5,283.6 L1129.2,284.5 L1127.0,285.4 L1124.7,286.3 L1122.5,287.2 L1120.2,288.1 L1117.9,289.0 L1115.7,289.8 L1113.4,290.7 L1111.2,291.5 L1108.9,292.4 L1106.7,293.2 L1104.4,294.0 L1102.2,294.8 L1099.9,295.6 L1097.7,296.4 L1095.4,297.2 L1093.2,297.9 L1091.0,298.7 L1088.7,299.5 L1086.5,300.4 L1084.3,301.3 L1082.1,302.2 L1079.9,303.2 L1077.7,304.3 L1075.5,305.4 L1073.2,306.6 L1071.0,307.9 L1068.8,309.2 L1066.6,310.5 L1064.4,311.8 L1062.2,313.1 L1060.0,314.3 L1057.8,315.6 L1055.5,316.8 L1053.3,317.9 L1051.1,318.9 L1048.8,319.9 L1046.6,320.9 L1044.3,321.8 L1042.0,322.7 L1039.8,323.5 L1037.5,324.2 L1035.2,324.9 L1032.9,325.6 L1030.6,326.3 L1028.3,326.9 L1026.0,327.5 L1023.6,328.2 L1021.3,328.8 L1019.0,329.4 L1016.6,330.1 L1014.3,330.7 L1012.0,331.4 L1009.6,332.2 L1007.3,332.9 L1005.0,333.7 L1002.6,334.4 L1000.3,335.2 L997.9,336.0 L995.6,336.8 L993.3,337.5 L990.9,338.3 L988.6,339.1 L986.3,339.8 L984.0,340.5 L981.6,341.2 L979.3,341.9 L976.9,342.6 L974.6,343.3 L972.3,344.0 L969.9,344.6 L967.6,345.3 L965.3,346.0 L962.9,346.6 L960.6,347.3 L958.2,347.9 L955.9,348.6 L953.5,349.3 L951.2,350.0 L948.9,350.7 L946.5,351.3 L944.2,352.0 L941.8,352.7 L939.4,353.4 L937.1,354.1 L934.7,354.7 L932.3,355.2 L930.0,355.7 L927.6,356.2 L925.2,356.6 L922.9,357.0 L920.5,357.4 L918.2,357.8 L915.9,358.2 L913.6,358.7 L911.3,359.3 L909.1,360.1 L906.8,360.9 L904.5,361.8 L902.3,362.9 L900.0,364.0 L897.7,365.2 L895.4,366.3 L893.2,367.5 L890.9,368.5 L888.5,369.5 L886.2,370.4 L883.9,371.1 L881.6,371.7 L879.3,372.2 L877.0,372.7 L874.7,373.1 L872.4,373.5 L870.2,374.0 L867.9,374.5 L865.6,375.1 L863.3,375.9 L861.1,376.7 L858.8,377.7 L856.5,378.8 L854.3,379.9 L852.0,381.1 L849.7,382.3 L847.5,383.5 L845.2,384.6 L842.9,385.7 L840.6,386.6 L838.4,387.6 L836.1,388.4 L833.8,389.2 L831.5,390.0 L829.2,390.7 L827.0,391.5 L824.7,392.2 L822.4,393.0 L820.1,393.7 L817.8,394.5 L815.5,395.4 L813.2,396.2 L810.9,397.1 L808.6,397.9 L806.3,398.8 L804.0,399.7 L801.7,400.6 L799.3,401.4 L797.0,402.3 L794.6,403.1 L792.3,403.9 L789.9,404.7 L787.6,405.5 L785.4,406.4 L783.2,407.2 L781.0,408.2 L778.9,409.1 L776.8,410.2 L774.8,411.3 L772.7,412.5 L770.7,413.7 L768.7,415.0 L766.7,416.3 L764.7,417.6 L762.6,418.8 L760.5,420.0 L758.5,421.2 L756.3,422.3 L754.2,423.3 L752.0,424.2 L749.9,425.1 L747.7,426.0 L745.6,426.8 L743.4,427.7 L741.3,428.6 L739.1,429.5 L737.0,430.4 L734.9,431.4 L732.8,432.5 L730.7,433.6 L728.7,434.8 L726.6,436.1 L724.6,437.4 L722.6,438.9 L720.6,440.4 L718.5,442.0 L716.5,443.6 L714.5,445.3 L712.5,446.9 L710.4,448.6 L708.4,450.2 L706.4,451.8 L704.3,453.2 L702.3,454.6 L700.2,455.9 L698.2,457.1 L696.1,458.2 L694.1,459.3 L692.0,460.4 L690.0,461.4 L688.0,462.5 L686.0,463.6 L683.9,464.8 L681.9,466.1 L679.9,467.5 L678.0,468.9 L676.0,470.3 L674.0,471.9 L672.0,473.4 L670.0,475.0 L668.1,476.6 L666.1,478.2 L664.1,479.8 L662.2,481.4 L660.2,483.0 L658.2,484.6 L656.3,486.1 L654.3,487.7 L652.3,489.1 L650.4,490.6 L648.4,491.9 L646.4,493.2 L644.4,494.5 L642.5,495.7 L640.5,496.9 L638.5,498.0 L636.6,499.2 L634.6,500.3 L632.7,501.5 L630.7,502.7 L628.7,503.9 L626.7,505.1 L624.8,506.4 L622.8,507.7 L620.8,509.0 L618.8,510.4 L616.8,511.8 L614.8,513.2 L612.9,514.7 L610.9,516.2 L608.9,517.8 L606.9,519.5 L605.0,521.2 L603.0,522.9 L601.0,524.6 L599.0,526.3 L597.0,528.0 L594.9,529.6 L592.9,531.2 L590.8,532.7 L588.7,534.0 L586.6,535.3 L584.4,536.5 L582.2,537.6 L579.9,538.6 L577.6,539.5 L575.3,540.3 L572.9,541.0 L570.6,541.7 L568.2,542.5 L565.9,543.2 L563.5,543.9 L561.3,544.6 L559.0,545.4 L556.9,546.3 L554.8,547.2 L552.7,548.2 L550.8,549.3 L548.8,550.5 L546.8,551.8 L544.9,553.2 L542.9,554.6 L541.0,556.0 L539.1,557.5 L537.2,559.1 L535.3,560.6 L533.4,562.2 L531.6,563.7 L529.7,565.3 L527.9,566.8 L526.0,568.4 L524.2,569.9 L522.4,571.4 L520.6,572.9 L518.8,574.4 L517.0,575.9 L515.3,577.4 L513.5,578.9 L511.8,580.5 L510.1,582.1 L508.3,583.7 L506.6,585.3 L504.9,587.0 L503.3,588.8 L501.6,590.6 L499.9,592.4 L498.2,594.3 L496.6,596.2 L494.9,598.1 L493.2,600.0 L491.6,602.0 L489.9,603.9 L488.2,605.8 L486.6,607.7 L484.9,609.5 L483.3,611.3 L481.6,613.1 L480.0,614.8 L478.3,616.5 L476.7,618.2 L475.1,619.9 L473.4,621.6 L471.9,623.3 L470.3,624.9 L468.7,626.6 L467.1,628.3 L465.6,630.0 L464.1,631.8 L462.6,633.5 L461.1,635.4 L459.7,637.3 L458.2,639.2 L456.8,641.2 L455.4,643.3 L454.0,645.5 L452.6,647.7 L451.2,649.9 L449.8,652.2 L448.5,654.4 L447.1,656.7 L445.8,658.9 L444.5,661.1 L443.1,663.2 L441.8,665.2 L440.5,667.2 L439.2,669.2 L437.8,671.2 L436.5,673.1 L435.2,675.0 L433.9,677.0 L432.5,679.0 L431.2,681.0 L429.9,683.1 L428.5,685.1 L427.2,687.3 L425.9,689.4 L424.6,691.5 L423.3,693.6 L422.0,695.7 L420.6,697.8 L419.3,699.8 L418.0,701.7 L416.7,703.6 L415.4,705.5 L414.1,707.4 L412.8,709.3 L411.5,711.2 L410.3,713.1 L409.0,715.0 L407.7,717.0 L406.4,719.0 L405.1,721.1 L403.8,723.1 L402.5,725.3 L401.2,727.4 L400.0,729.5 L398.7,731.7 L397.5,733.8 L396.3,735.9 L395.2,738.0 L394.1,740.2 L393.0,742.3 L391.9,744.4 L390.9,746.5 L389.9,748.6 L388.9,750.8 L388.0,752.9 L387.1,755.1 L386.1,757.3 L385.2,759.5 L384.3,761.8 L383.4,764.0 L382.4,766.3 L381.5,768.6 L380.5,770.9 L379.6,773.1 L378.6,775.4 L377.5,777.7 L376.5,780.0 L375.4,782.2 L374.3,784.5 L373.2,786.8 L372.1,789.1 L371.0,791.3 L369.9,793.6 L368.8,795.9 L367.7,798.2" stroke="#ED7D31" stroke-width="7.4"/>
<path d="M1367.0,188.0 L1364.6,189.0 L1362.3,190.0 L1360.0,191.0 L1357.7,191.9 L1355.3,192.7 L1353.1,193.5 L1350.8,194.4 L1348.5,195.0 L1346.2,195.6 L1343.9,196.3 L1341.6,197.0 L1339.3,197.6 L1337.1,198.4 L1334.8,199.1 L1332.5,199.9 L1330.3,200.8 L1328.1,201.7 L1325.9,202.7 L1323.7,203.8 L1321.6,204.8 L1319.4,205.8 L1317.3,206.8 L1315.2,207.9 L1313.0,209.0 L1310.8,210.0 L1308.7,211.0 L1306.5,212.0 L1304.3,212.8 L1302.1,213.6 L1299.9,214.3 L1297.7,214.9 L1295.4,215.4 L1293.2,216.0 L1290.9,216.6 L1288.6,217.3 L1286.3,218.0 L1283.9,218.8 L1281.6,219.7 L1279.3,220.7 L1277.0,221.8 L1274.7,222.9 L1272.4,224.1 L1270.2,225.3 L1267.9,226.5 L1265.7,227.6 L1263.5,228.7 L1261.2,229.7 L1259.0,230.6 L1256.7,231.4 L1254.4,232.2 L1252.2,233.0 L1249.9,233.7 L1247.7,234.4 L1245.5,235.2 L1243.2,235.9 L1241.0,236.8 L1238.8,237.7 L1236.5,238.6 L1234.3,239.6 L1232.1,240.6 L1230.0,241.6 L1227.8,242.6 L1225.6,243.5 L1223.4,244.5 L1221.3,245.4 L1219.1,246.2 L1217.0,247.0 L1214.8,247.9 L1212.6,248.7 L1210.5,249.5 L1208.3,250.4 L1206.1,251.3 L1204.0,252.2 L1201.8,253.2 L1199.6,254.3 L1197.4,255.3 L1195.2,256.5 L1193.0,257.6 L1190.8,258.8 L1188.6,260.0 L1186.3,261.2 L1184.1,262.4 L1181.8,263.6 L1179.6,264.8 L1177.4,265.9 L1175.1,267.1 L1172.9,268.2 L1170.7,269.4 L1168.4,270.5 L1166.2,271.5 L1163.9,272.6 L1161.7,273.6 L1159.4,274.5 L1157.2,275.5 L1155.0,276.4 L1152.7,277.3 L1150.5,278.1 L1148.2,279.0 L1146.0,279.8 L1143.7,280.7 L1141.5,281.6 L1139.2,282.5 L1136.9,283.4 L1134.7,284.3 L1132.4,285.2 L1130.1,286.2 L1127.9,287.1 L1125.6,288.1 L1123.3,289.0 L1121.1,289.9 L1118.8,290.8 L1116.5,291.6 L1114.3,292.5 L1112.0,293.3 L1109.8,294.1 L1107.5,294.9 L1105.2,295.7 L1103.0,296.6 L1100.7,297.5 L1098.5,298.4 L1096.2,299.4 L1094.0,300.5 L1091.7,301.5 L1089.5,302.6 L1087.3,303.7 L1085.1,304.8 L1082.8,306.0 L1080.6,307.1 L1078.4,308.2 L1076.2,309.3 L1074.0,310.4 L1071.8,311.4 L1069.6,312.3 L1067.4,313.3 L1065.2,314.2 L1063.0,315.0 L1060.7,315.8 L1058.5,316.6 L1056.3,317.4 L1054.0,318.1 L1051.8,318.8 L1049.5,319.4 L1047.2,320.1 L1045.0,320.8 L1042.7,321.5 L1040.4,322.2 L1038.1,323.0 L1035.8,323.8 L1033.5,324.6 L1031.2,325.6 L1028.8,326.5 L1026.5,327.4 L1024.2,328.4 L1021.8,329.3 L1019.5,330.3 L1017.2,331.1 L1014.8,332.0 L1012.5,332.7 L1010.2,333.4 L1007.8,334.0 L1005.5,334.6 L1003.1,335.2 L1000.8,335.7 L998.5,336.2 L996.1,336.6 L993.8,337.1 L991.5,337.6 L989.1,338.0 L986.8,338.5 L984.5,339.0 L982.1,339.6 L979.8,340.1 L977.5,340.7 L975.1,341.3 L972.8,342.0 L970.4,342.8 L968.1,343.6 L965.7,344.5 L963.4,345.4 L961.1,346.3 L958.7,347.3 L956.4,348.3 L954.0,349.3 L951.7,350.2 L949.3,351.2 L947.0,352.2 L944.6,353.1 L942.3,354.0 L939.9,354.8 L937.5,355.6 L935.1,356.4 L932.7,357.1 L930.4,357.7 L928.0,358.3 L925.6,358.8 L923.3,359.4 L921.0,359.8 L918.7,360.3 L916.4,360.8 L914.1,361.3 L911.9,361.9 L909.7,362.5 L907.4,363.1 L905.2,363.8 L902.9,364.5 L900.6,365.2 L898.4,365.9 L896.1,366.7 L893.8,367.5 L891.5,368.2 L889.1,368.9 L886.8,369.7 L884.5,370.4 L882.2,371.1 L879.9,371.9 L877.6,372.6 L875.3,373.4 L873.0,374.3 L870.8,375.1 L868.5,376.0 L866.2,377.0 L864.0,378.0 L861.7,379.0 L859.5,380.1 L857.2,381.3 L855.0,382.4 L852.7,383.6 L850.5,384.7 L848.2,385.8 L845.9,386.8 L843.6,387.8 L841.4,388.7 L839.1,389.6 L836.8,390.4 L834.5,391.1 L832.2,391.8 L830.0,392.6 L827.7,393.3 L825.4,394.0 L823.1,394.7 L820.8,395.5 L818.5,396.3 L816.2,397.1 L814.0,397.9 L811.7,398.7 L809.4,399.5 L807.1,400.4 L804.8,401.2 L802.4,402.1 L800.0,402.8 L797.6,403.6 L795.3,404.3 L792.9,405.0 L790.6,405.7 L788.4,406.4 L786.1,407.1 L784.0,407.8 L781.9,408.6 L779.8,409.5 L777.9,410.4 L775.9,411.4 L773.9,412.6 L772.0,413.8 L770.0,415.1 L768.0,416.4 L766.0,417.8 L763.9,419.2 L761.8,420.7 L759.7,422.1 L757.5,423.5 L755.4,424.9 L753.2,426.2 L751.0,427.5 L748.8,428.8 L746.7,430.0 L744.5,431.2 L742.4,432.4 L740.3,433.5 L738.1,434.7 L736.1,435.8 L734.0,436.9 L732.0,438.1 L729.9,439.3 L727.9,440.5 L725.9,441.7 L723.9,443.0 L721.9,444.3 L719.8,445.6 L717.8,446.9 L715.8,448.3 L713.8,449.6 L711.8,451.0 L709.7,452.3 L707.7,453.6 L705.6,454.8 L703.6,456.0 L701.5,457.2 L699.5,458.4 L697.4,459.5 L695.4,460.6 L693.3,461.8 L691.3,463.0 L689.3,464.2 L687.3,465.5 L685.3,466.8 L683.3,468.3 L681.3,469.8 L679.3,471.3 L677.4,472.9 L675.4,474.5 L673.4,476.1 L671.4,477.7 L669.5,479.2 L667.5,480.7 L665.6,482.1 L663.6,483.4 L661.6,484.7 L659.7,486.0 L657.7,487.2 L655.7,488.5 L653.8,489.8 L651.8,491.1 L649.8,492.5 L647.9,494.0 L645.9,495.5 L643.9,497.2 L642.0,498.8 L640.0,500.5 L638.0,502.2 L636.1,503.8 L634.1,505.4 L632.1,507.0 L630.2,508.4 L628.2,509.7 L626.2,511.0 L624.2,512.1 L622.3,513.3 L620.3,514.4 L618.3,515.5 L616.3,516.6 L614.3,517.8 L612.3,519.0 L610.4,520.3 L608.4,521.8 L606.4,523.3 L604.4,524.8 L602.5,526.5 L600.4,528.1 L598.4,529.7 L596.3,531.3 L594.3,532.9 L592.1,534.5 L590.0,535.9 L587.8,537.3 L585.6,538.6 L583.3,539.8 L580.9,540.9 L578.6,541.8 L576.1,542.6 L573.7,543.4 L571.3,544.0 L569.0,544.6 L566.6,545.2 L564.3,545.7 L562.1,546.3 L559.9,547.0 L557.8,547.7 L555.8,548.5 L553.9,549.5 L552.0,550.6 L550.1,551.9 L548.2,553.4 L546.3,555.0 L544.4,556.6 L542.5,558.4 L540.6,560.2 L538.8,562.0 L536.9,563.8 L535.1,565.7 L533.2,567.4 L531.4,569.1 L529.5,570.8 L527.7,572.4 L525.9,574.0 L524.0,575.5 L522.2,577.0 L520.5,578.4 L518.7,579.8 L517.0,581.2 L515.3,582.6 L513.6,584.1 L511.9,585.5 L510.2,587.0 L508.5,588.5 L506.8,590.0 L505.1,591.6 L503.4,593.3 L501.8,595.0 L500.1,596.8 L498.4,598.7 L496.8,600.6 L495.1,602.5 L493.4,604.4 L491.8,606.3 L490.1,608.3 L488.4,610.2 L486.8,612.1 L485.1,614.0 L483.5,615.9 L481.8,617.7 L480.2,619.5 L478.6,621.3 L477.0,623.0 L475.4,624.7 L473.8,626.3 L472.2,627.8 L470.7,629.3 L469.1,630.8 L467.6,632.2 L466.1,633.7 L464.6,635.1 L463.2,636.7 L461.7,638.3 L460.3,640.0 L458.9,641.9 L457.5,643.9 L456.1,646.0 L454.7,648.2 L453.3,650.5 L452.0,652.9 L450.6,655.2 L449.3,657.6 L448.0,659.9 L446.6,662.2 L445.3,664.4 L444.0,666.5 L442.6,668.6 L441.3,670.6 L440.0,672.6 L438.7,674.6 L437.4,676.5 L436.0,678.4 L434.7,680.4 L433.4,682.4 L432.0,684.4 L430.7,686.5 L429.4,688.5 L428.1,690.6 L426.8,692.7 L425.5,694.8 L424.2,696.8 L422.8,698.9 L421.5,700.8 L420.2,702.8 L418.8,704.7 L417.5,706.6 L416.2,708.5 L414.9,710.4 L413.6,712.3 L412.3,714.2 L411.0,716.2 L409.7,718.2 L408.4,720.2 L407.1,722.3 L405.8,724.4 L404.5,726.6 L403.2,728.7 L401.9,730.9 L400.7,733.0 L399.5,735.2 L398.3,737.3 L397.1,739.4 L396.0,741.5 L394.9,743.6 L393.8,745.7 L392.8,747.8 L391.8,750.0 L390.9,752.1 L389.9,754.3 L389.0,756.6 L388.0,758.9 L387.1,761.2 L386.2,763.6 L385.2,766.0 L384.3,768.4 L383.3,770.8 L382.3,773.2 L381.3,775.6 L380.3,778.0 L379.3,780.4 L378.2,782.7 L377.1,784.9 L375.9,787.1 L374.7,789.2 L373.6,791.3 L372.4,793.3 L371.2,795.2 L370.0,797.1 L368.8,798.9" stroke="#ED7D31" stroke-width="7.4"/>
<path d="M366.5,800.0 L369.0,800.7 L371.4,801.3 L373.8,801.7 L376.2,802.1 L378.6,802.3 L381.2,802.4 L383.9,802.1 L386.6,801.4 L389.1,800.3 L391.6,798.9 L393.9,797.5 L396.1,796.0 L398.3,794.6 L400.3,793.3 L402.5,792.1 L404.7,790.9 L406.9,789.8 L409.1,788.6 L411.3,787.5 L413.5,786.4 L415.7,785.4 L417.9,784.4 L420.1,783.3 L422.3,782.2 L424.5,781.0 L426.7,779.7 L428.8,778.4 L430.8,777.0 L432.8,775.5 L434.8,774.1 L436.8,772.7 L438.8,771.4 L440.7,770.2 L442.8,769.1 L444.9,768.0 L447.1,766.9 L449.2,766.0 L451.4,765.3 L453.5,764.6 L455.7,764.1 L457.9,763.5 L460.1,763.1 L462.3,762.6 L464.6,762.1 L466.8,761.6 L469.1,761.1 L471.3,760.4 L473.6,759.7 L475.8,758.9 L478.1,758.1 L480.4,757.2 L482.7,756.3 L485.0,755.4 L487.2,754.5 L489.5,753.6 L491.8,752.7 L494.1,751.9 L496.4,751.2 L498.7,750.4 L501.0,749.7 L503.3,749.0 L505.5,748.4 L507.8,747.7 L510.1,747.1 L512.4,746.5 L514.7,745.9 L517.0,745.3 L519.3,744.7 L521.6,744.1 L524.0,743.4 L526.3,742.8 L528.6,742.2 L531.0,741.5 L533.3,740.9 L535.7,740.2 L538.0,739.6 L540.4,738.9 L542.7,738.2 L545.1,737.5 L547.4,736.8 L549.8,736.1 L552.1,735.3 L554.5,734.6 L556.8,733.8 L559.1,733.1 L561.4,732.3 L563.7,731.6 L566.0,730.8 L568.3,730.0 L570.6,729.2 L572.9,728.4 L575.2,727.5 L577.5,726.6 L579.7,725.7 L582.0,724.8 L584.2,723.8 L586.5,722.9 L588.8,721.9 L591.0,721.0 L593.2,720.0 L595.5,719.1 L597.7,718.2 L600.0,717.2 L602.2,716.3 L604.4,715.4 L606.7,714.5 L608.9,713.7 L611.1,712.8 L613.4,711.9 L615.6,711.0 L617.9,710.1 L620.1,709.3 L622.3,708.3 L624.6,707.4 L626.8,706.5 L629.1,705.6 L631.3,704.8 L633.5,703.9 L635.8,703.1 L638.0,702.2 L640.3,701.4 L642.5,700.7 L644.7,699.9 L647.0,699.2 L649.2,698.4 L651.4,697.7 L653.6,696.9 L655.9,696.0 L658.1,695.2 L660.3,694.2 L662.6,693.3 L664.8,692.2 L667.0,691.1 L669.3,690.0 L671.5,688.8 L673.7,687.6 L675.9,686.4 L678.0,685.2 L680.2,684.1 L682.4,682.9 L684.5,681.8 L686.7,680.7 L688.9,679.7 L691.0,678.7 L693.2,677.7 L695.3,676.8 L697.5,675.8 L699.7,675.0 L701.8,674.1 L704.0,673.3 L706.2,672.6 L708.5,671.8 L710.7,671.1 L713.0,670.4 L715.3,669.7 L717.6,669.0 L719.9,668.3 L722.2,667.6 L724.6,666.9 L726.9,666.3 L729.3,665.6 L731.6,665.0 L734.0,664.4 L736.4,663.8 L738.7,663.2 L741.1,662.6 L743.4,662.1 L745.8,661.6 L748.1,661.2 L750.5,660.7 L752.8,660.1 L755.1,659.6 L757.4,658.9 L759.7,658.2 L762.0,657.4 L764.2,656.5 L766.5,655.4 L768.7,654.3 L770.9,653.1 L773.1,651.9 L775.3,650.6 L777.4,649.3 L779.6,648.0 L781.7,646.7 L783.9,645.4 L786.0,644.1 L788.1,642.8 L790.3,641.6 L792.4,640.4 L794.5,639.3 L796.6,638.2 L798.7,637.0 L800.8,636.0 L803.0,634.9 L805.1,633.9 L807.2,632.9 L809.3,631.9 L811.5,631.0 L813.7,630.0 L815.9,629.0 L818.1,628.1 L820.3,627.1 L822.5,626.2 L824.8,625.2 L827.0,624.3 L829.2,623.3 L831.5,622.4 L833.7,621.4 L836.0,620.5 L838.2,619.6 L840.5,618.7 L842.8,617.8 L845.0,617.0 L847.3,616.2 L849.6,615.4 L851.8,614.6 L854.1,613.8 L856.4,613.1 L858.6,612.3 L860.9,611.6 L863.1,610.8 L865.4,610.0 L867.7,609.3 L869.9,608.5 L872.1,607.7 L874.3,606.8 L876.6,606.0 L878.8,605.1 L881.0,604.2 L883.2,603.2 L885.4,602.2 L887.6,601.1 L889.9,600.0 L892.1,598.9 L894.3,597.7 L896.5,596.5 L898.7,595.3 L900.8,594.2 L903.0,593.0 L905.2,591.8 L907.4,590.7 L909.6,589.6 L911.8,588.6 L913.9,587.5 L916.1,586.5 L918.3,585.4 L920.5,584.3 L922.6,583.2 L924.8,582.1 L926.9,580.9 L929.0,579.8 L931.2,578.6 L933.3,577.4 L935.4,576.2 L937.5,575.0 L939.6,573.8 L941.7,572.6 L943.8,571.5 L945.9,570.3 L948.0,569.2 L950.1,568.2 L952.2,567.1 L954.2,566.1 L956.4,565.1 L958.5,564.0 L960.6,563.0 L962.7,562.0 L964.8,560.9 L967.0,559.7 L969.2,558.6 L971.3,557.4 L973.5,556.2 L975.7,555.1 L977.9,553.9 L980.2,552.8 L982.4,551.8 L984.6,550.8 L986.8,549.8 L989.0,549.0 L991.3,548.2 L993.5,547.4 L995.7,546.6 L998.0,545.8 L1000.2,545.0 L1002.4,544.1 L1004.6,543.2 L1006.8,542.2 L1009.0,541.2 L1011.2,540.1 L1013.4,539.0 L1015.6,537.8 L1017.8,536.6 L1020.0,535.4 L1022.2,534.3 L1024.4,533.1 L1026.6,532.0 L1028.7,530.9 L1030.8,529.9 L1032.9,528.9 L1035.0,527.9 L1037.1,526.8 L1039.2,525.8 L1041.3,524.7 L1043.3,523.5 L1045.4,522.3 L1047.5,521.0 L1049.5,519.6 L1051.5,518.2 L1053.6,516.7 L1055.6,515.2 L1057.7,513.7 L1059.7,512.3 L1061.8,510.9 L1063.9,509.5 L1065.9,508.2 L1068.0,506.9 L1070.1,505.7 L1072.1,504.6 L1074.2,503.4 L1076.3,502.3 L1078.3,501.2 L1080.4,500.1 L1082.4,498.9 L1084.4,497.7 L1086.4,496.5 L1088.4,495.3 L1090.4,494.0 L1092.4,492.7 L1094.3,491.3 L1096.3,489.9 L1098.2,488.4 L1100.1,486.9 L1102.1,485.4 L1104.0,483.7 L1105.9,482.1 L1107.8,480.4 L1109.7,478.7 L1111.5,476.9 L1113.4,475.2 L1115.3,473.5 L1117.2,471.8 L1119.1,470.1 L1120.9,468.5 L1122.8,466.9 L1124.7,465.3 L1126.6,463.7 L1128.5,462.1 L1130.3,460.6 L1132.2,459.1 L1134.0,457.5 L1135.9,456.0 L1137.8,454.5 L1139.6,453.1 L1141.4,451.6 L1143.3,450.1 L1145.1,448.6 L1146.9,447.1 L1148.8,445.6 L1150.6,444.1 L1152.4,442.5 L1154.2,441.0 L1156.0,439.4 L1157.8,437.8 L1159.6,436.2 L1161.4,434.5 L1163.2,432.9 L1165.0,431.2 L1166.8,429.5 L1168.6,427.8 L1170.4,426.1 L1172.1,424.3 L1173.9,422.5 L1175.7,420.8 L1177.4,419.0 L1179.2,417.2 L1181.0,415.4 L1182.7,413.7 L1184.5,412.0 L1186.2,410.3 L1188.0,408.6 L1189.7,406.9 L1191.4,405.3 L1193.1,403.7 L1194.8,402.1 L1196.5,400.6 L1198.2,399.0 L1199.9,397.5 L1201.6,395.9 L1203.2,394.4 L1204.9,392.9 L1206.5,391.4 L1208.2,389.8 L1209.8,388.3 L1211.5,386.6 L1213.1,385.0 L1214.8,383.2 L1216.4,381.4 L1218.0,379.5 L1219.6,377.5 L1221.2,375.5 L1222.8,373.5 L1224.4,371.4 L1226.0,369.3 L1227.6,367.3 L1229.2,365.3 L1230.8,363.4 L1232.5,361.5 L1234.1,359.7 L1235.8,358.0 L1237.4,356.4 L1239.2,354.7 L1240.9,353.1 L1242.6,351.5 L1244.4,349.8 L1246.1,348.1 L1247.8,346.3 L1249.6,344.5 L1251.2,342.6 L1252.9,340.6 L1254.5,338.5 L1256.1,336.4 L1257.6,334.3 L1259.1,332.3 L1260.5,330.3 L1261.9,328.4 L1263.3,326.6 L1264.8,324.9 L1266.2,323.3 L1267.8,321.7 L1269.3,320.1 L1270.9,318.6 L1272.6,317.0 L1274.2,315.3 L1275.9,313.6 L1277.5,311.8 L1279.2,310.0 L1280.8,308.1 L1282.4,306.1 L1284.0,304.1 L1285.6,302.1 L1287.2,300.1 L1288.8,298.1 L1290.4,296.0 L1292.0,294.0 L1293.6,292.0 L1295.2,290.1 L1296.7,288.1 L1298.3,286.2 L1299.8,284.4 L1301.3,282.5 L1302.9,280.8 L1304.4,279.0 L1305.8,277.3 L1307.3,275.6 L1308.7,273.9 L1310.2,272.2 L1311.6,270.5 L1313.0,268.8 L1314.3,267.1 L1315.7,265.3 L1317.1,263.5 L1318.4,261.6 L1319.8,259.6 L1321.2,257.4 L1322.6,255.3 L1324.0,253.0 L1325.5,250.8 L1326.9,248.6 L1328.3,246.4 L1329.8,244.3 L1331.2,242.3 L1332.7,240.4 L1334.2,238.6 L1335.7,236.9 L1337.2,235.2 L1338.7,233.6 L1340.3,232.0 L1341.8,230.5 L1343.4,228.9 L1344.9,227.3 L1346.5,225.7 L1348.1,224.1 L1349.6,222.4 L1351.2,220.7 L1352.7,218.9 L1354.2,217.2 L1355.9,215.4 L1357.7,213.5 L1359.4,211.5 L1361.1,209.5 L1362.6,207.3 L1363.9,205.1 L1364.8,202.8 L1365.5,200.4 L1366.2,197.9 L1366.8,195.4 L1367.4,192.8 L1367.7,190.1 L1367.9,187.3" stroke="#ED7D31" stroke-width="7.4"/>
<path d="M366.5,798.0 L369.0,798.5 L371.4,798.9 L373.8,799.2 L376.2,799.4 L378.6,799.5 L380.9,799.5 L383.2,799.1 L385.5,798.4 L387.7,797.4 L389.9,796.1 L392.1,794.7 L394.3,793.3 L396.5,791.8 L398.6,790.4 L400.8,789.1 L403.0,787.9 L405.2,786.6 L407.4,785.4 L409.5,784.2 L411.7,783.0 L413.8,781.9 L416.0,780.7 L418.1,779.6 L420.2,778.4 L422.3,777.2 L424.4,775.9 L426.4,774.6 L428.4,773.2 L430.4,771.8 L432.5,770.4 L434.5,769.0 L436.6,767.7 L438.7,766.5 L440.8,765.4 L443.0,764.3 L445.2,763.2 L447.3,762.3 L449.5,761.3 L451.7,760.5 L454.0,759.6 L456.2,758.8 L458.4,758.1 L460.7,757.4 L462.9,756.7 L465.2,756.0 L467.5,755.4 L469.8,754.7 L472.0,754.1 L474.3,753.5 L476.6,752.8 L478.9,752.2 L481.2,751.6 L483.5,750.9 L485.8,750.3 L488.1,749.6 L490.4,748.9 L492.7,748.2 L495.0,747.5 L497.3,746.7 L499.6,746.0 L501.9,745.2 L504.2,744.4 L506.5,743.6 L508.8,742.9 L511.2,742.1 L513.5,741.2 L515.8,740.4 L518.1,739.6 L520.5,738.8 L522.8,738.0 L525.2,737.2 L527.5,736.4 L529.9,735.7 L532.2,735.0 L534.5,734.3 L536.9,733.7 L539.2,733.0 L541.5,732.4 L543.9,731.8 L546.2,731.2 L548.5,730.6 L550.8,730.0 L553.1,729.3 L555.4,728.6 L557.7,727.9 L560.0,727.2 L562.2,726.4 L564.5,725.7 L566.8,724.9 L569.0,724.1 L571.3,723.3 L573.6,722.5 L575.8,721.7 L578.1,720.9 L580.3,720.2 L582.6,719.4 L584.8,718.6 L587.0,717.8 L589.3,717.0 L591.5,716.1 L593.8,715.3 L596.0,714.4 L598.2,713.5 L600.5,712.5 L602.7,711.6 L605.0,710.6 L607.2,709.6 L609.4,708.7 L611.7,707.7 L613.9,706.8 L616.2,705.9 L618.4,705.0 L620.6,704.1 L622.9,703.2 L625.1,702.4 L627.3,701.5 L629.6,700.7 L631.8,699.8 L634.0,699.0 L636.3,698.1 L638.5,697.3 L640.7,696.4 L643.0,695.5 L645.2,694.6 L647.4,693.7 L649.6,692.8 L651.9,691.8 L654.1,690.8 L656.3,689.9 L658.5,688.9 L660.7,687.9 L662.9,686.8 L665.1,685.8 L667.3,684.7 L669.5,683.6 L671.7,682.5 L673.9,681.4 L676.0,680.3 L678.2,679.2 L680.4,678.1 L682.6,677.1 L684.8,676.1 L687.0,675.1 L689.2,674.2 L691.4,673.3 L693.6,672.4 L695.8,671.5 L698.0,670.7 L700.3,669.9 L702.5,669.2 L704.8,668.5 L707.1,667.8 L709.4,667.1 L711.7,666.5 L714.1,665.8 L716.4,665.2 L718.7,664.6 L721.1,663.9 L723.4,663.3 L725.8,662.7 L728.1,662.0 L730.5,661.4 L732.8,660.7 L735.2,660.1 L737.5,659.4 L739.8,658.8 L742.1,658.1 L744.4,657.4 L746.7,656.7 L749.0,656.0 L751.3,655.3 L753.5,654.5 L755.7,653.8 L758.0,653.0 L760.2,652.1 L762.3,651.3 L764.5,650.5 L766.7,649.6 L768.8,648.7 L771.0,647.8 L773.1,646.9 L775.3,645.9 L777.4,644.8 L779.5,643.7 L781.7,642.6 L783.8,641.4 L785.9,640.1 L788.1,638.8 L790.2,637.5 L792.3,636.2 L794.5,634.9 L796.6,633.7 L798.8,632.4 L800.9,631.3 L803.1,630.1 L805.3,629.1 L807.5,628.1 L809.7,627.1 L811.9,626.2 L814.1,625.2 L816.4,624.3 L818.6,623.3 L820.8,622.3 L823.1,621.2 L825.3,620.2 L827.6,619.1 L829.8,618.0 L832.1,616.9 L834.4,615.8 L836.6,614.8 L838.9,613.8 L841.2,613.0 L843.4,612.2 L845.7,611.5 L847.9,610.8 L850.2,610.3 L852.4,609.7 L854.7,609.1 L856.9,608.5 L859.2,607.8 L861.4,607.0 L863.7,606.2 L865.9,605.2 L868.1,604.1 L870.3,602.9 L872.5,601.7 L874.7,600.5 L876.9,599.2 L879.1,597.9 L881.3,596.7 L883.5,595.4 L885.7,594.3 L887.9,593.2 L890.1,592.2 L892.3,591.2 L894.5,590.2 L896.7,589.3 L898.9,588.4 L901.0,587.5 L903.2,586.7 L905.4,585.9 L907.6,585.1 L909.7,584.3 L911.9,583.5 L914.0,582.6 L916.2,581.8 L918.3,580.9 L920.5,580.0 L922.6,579.0 L924.7,577.9 L926.8,576.8 L928.9,575.7 L931.0,574.5 L933.1,573.3 L935.2,572.1 L937.3,570.8 L939.4,569.6 L941.5,568.3 L943.6,567.1 L945.8,565.9 L947.9,564.7 L950.0,563.5 L952.1,562.3 L954.3,561.1 L956.4,560.0 L958.6,558.8 L960.7,557.6 L962.9,556.5 L965.1,555.3 L967.3,554.1 L969.5,552.9 L971.7,551.8 L973.9,550.6 L976.1,549.5 L978.4,548.4 L980.6,547.4 L982.8,546.4 L985.0,545.5 L987.3,544.6 L989.5,543.8 L991.7,543.0 L993.9,542.2 L996.1,541.4 L998.3,540.6 L1000.5,539.8 L1002.7,538.9 L1004.9,538.0 L1007.1,537.0 L1009.3,536.0 L1011.5,534.9 L1013.6,533.8 L1015.8,532.7 L1018.0,531.6 L1020.1,530.4 L1022.2,529.2 L1024.3,528.1 L1026.4,526.9 L1028.5,525.8 L1030.6,524.7 L1032.7,523.6 L1034.8,522.5 L1036.8,521.4 L1038.9,520.3 L1040.9,519.2 L1043.0,518.2 L1045.0,517.1 L1047.1,516.1 L1049.1,515.1 L1051.2,514.0 L1053.2,512.9 L1055.3,511.8 L1057.4,510.7 L1059.4,509.5 L1061.5,508.3 L1063.5,507.0 L1065.6,505.6 L1067.7,504.2 L1069.7,502.7 L1071.7,501.2 L1073.8,499.6 L1075.8,498.1 L1077.8,496.5 L1079.8,494.9 L1081.8,493.4 L1083.8,491.9 L1085.8,490.4 L1087.7,488.8 L1089.6,487.3 L1091.6,485.8 L1093.5,484.3 L1095.4,482.8 L1097.3,481.2 L1099.2,479.7 L1101.1,478.1 L1103.0,476.5 L1104.9,475.0 L1106.8,473.4 L1108.7,471.8 L1110.5,470.3 L1112.4,468.8 L1114.3,467.3 L1116.2,465.8 L1118.1,464.4 L1119.9,462.9 L1121.8,461.5 L1123.7,460.1 L1125.5,458.7 L1127.4,457.3 L1129.2,455.9 L1131.1,454.5 L1132.9,453.0 L1134.8,451.5 L1136.6,450.0 L1138.5,448.5 L1140.3,447.0 L1142.1,445.4 L1143.9,443.8 L1145.7,442.2 L1147.6,440.5 L1149.4,438.8 L1151.2,437.1 L1153.0,435.3 L1154.8,433.6 L1156.6,431.8 L1158.4,430.1 L1160.1,428.3 L1161.9,426.6 L1163.7,425.0 L1165.5,423.3 L1167.2,421.7 L1169.0,420.2 L1170.8,418.7 L1172.5,417.2 L1174.3,415.8 L1176.1,414.3 L1177.8,412.8 L1179.6,411.2 L1181.3,409.7 L1183.0,408.0 L1184.8,406.2 L1186.5,404.4 L1188.2,402.5 L1189.9,400.7 L1191.6,398.7 L1193.3,396.8 L1194.9,395.0 L1196.6,393.2 L1198.3,391.4 L1199.9,389.7 L1201.6,388.1 L1203.2,386.6 L1204.9,385.0 L1206.5,383.6 L1208.1,382.1 L1209.8,380.6 L1211.4,379.1 L1213.0,377.5 L1214.6,375.8 L1216.2,374.1 L1217.9,372.4 L1219.5,370.6 L1221.1,368.7 L1222.7,366.9 L1224.3,365.0 L1225.9,363.2 L1227.6,361.4 L1229.2,359.6 L1230.9,357.9 L1232.6,356.2 L1234.3,354.6 L1236.0,352.9 L1237.8,351.3 L1239.5,349.6 L1241.2,347.9 L1242.9,346.1 L1244.6,344.3 L1246.3,342.5 L1247.9,340.6 L1249.5,338.6 L1251.1,336.6 L1252.6,334.5 L1254.0,332.4 L1255.5,330.3 L1256.9,328.2 L1258.4,326.2 L1259.8,324.3 L1261.3,322.5 L1262.9,320.7 L1264.4,319.0 L1266.0,317.4 L1267.7,315.7 L1269.3,314.1 L1271.0,312.4 L1272.6,310.8 L1274.3,309.1 L1275.9,307.3 L1277.5,305.5 L1279.1,303.6 L1280.7,301.7 L1282.3,299.8 L1283.9,297.9 L1285.5,296.0 L1287.1,294.1 L1288.7,292.2 L1290.2,290.3 L1291.8,288.4 L1293.3,286.5 L1294.9,284.6 L1296.4,282.7 L1297.9,280.8 L1299.4,279.0 L1300.9,277.1 L1302.4,275.2 L1303.9,273.3 L1305.4,271.4 L1306.8,269.5 L1308.2,267.6 L1309.6,265.6 L1311.0,263.7 L1312.4,261.7 L1313.8,259.7 L1315.2,257.8 L1316.7,255.8 L1318.1,253.8 L1319.6,251.8 L1321.0,249.7 L1322.5,247.7 L1323.9,245.7 L1325.4,243.7 L1326.9,241.7 L1328.4,239.7 L1330.0,237.7 L1331.5,235.8 L1333.0,233.9 L1334.6,232.0 L1336.2,230.1 L1337.8,228.3 L1339.3,226.5 L1340.9,224.7 L1342.5,223.0 L1344.1,221.3 L1345.7,219.7 L1347.3,218.1 L1348.9,216.5 L1350.6,215.0 L1352.3,213.5 L1354.2,212.1 L1356.1,210.6 L1357.9,209.1 L1359.7,207.6 L1361.2,206.0 L1362.4,204.2 L1363.4,202.2 L1364.2,200.1 L1364.9,197.8 L1365.6,195.3 L1366.2,192.7 L1366.6,189.8 L1366.8,186.8" stroke="#ED7D31" stroke-width="7.4"/>
<path d="M366.5,795.2 L369.0,795.6 L371.4,795.8 L373.8,795.9 L376.2,795.9 L378.6,795.9 L380.7,795.7 L382.5,795.2 L384.3,794.4 L386.3,793.3 L388.3,792.0 L390.3,790.5 L392.5,788.9 L394.7,787.3 L396.9,785.7 L399.2,784.3 L401.4,783.0 L403.5,781.7 L405.6,780.5 L407.8,779.3 L409.9,778.1 L412.0,777.0 L414.1,776.0 L416.1,774.9 L418.1,773.9 L420.1,772.9 L422.0,771.8 L424.0,770.6 L426.0,769.4 L428.0,768.2 L430.1,766.9 L432.2,765.6 L434.4,764.4 L436.6,763.3 L438.8,762.3 L441.0,761.3 L443.3,760.4 L445.5,759.4 L447.7,758.5 L450.0,757.6 L452.2,756.7 L454.5,755.8 L456.7,755.0 L459.0,754.1 L461.3,753.2 L463.6,752.3 L465.9,751.4 L468.2,750.5 L470.5,749.6 L472.8,748.7 L475.1,747.8 L477.4,746.9 L479.7,746.0 L482.1,745.1 L484.4,744.3 L486.7,743.6 L489.0,742.9 L491.3,742.2 L493.6,741.6 L495.9,741.0 L498.2,740.5 L500.6,739.9 L502.9,739.4 L505.2,738.9 L507.6,738.3 L509.9,737.8 L512.3,737.2 L514.6,736.5 L517.0,735.9 L519.4,735.2 L521.7,734.5 L524.0,733.8 L526.4,733.0 L528.7,732.3 L531.1,731.6 L533.4,730.8 L535.7,730.0 L538.0,729.3 L540.3,728.5 L542.6,727.7 L544.9,727.0 L547.2,726.2 L549.5,725.4 L551.7,724.6 L554.0,723.8 L556.2,723.1 L558.5,722.3 L560.7,721.5 L563.0,720.8 L565.2,720.0 L567.5,719.3 L569.7,718.5 L571.9,717.8 L574.2,717.1 L576.4,716.4 L578.6,715.7 L580.9,715.0 L583.1,714.3 L585.3,713.6 L587.6,712.9 L589.8,712.1 L592.0,711.4 L594.3,710.6 L596.5,709.8 L598.8,709.0 L601.0,708.2 L603.2,707.3 L605.5,706.3 L607.7,705.4 L610.0,704.4 L612.2,703.3 L614.5,702.2 L616.7,701.0 L618.9,699.8 L621.2,698.6 L623.4,697.3 L625.6,696.1 L627.8,695.0 L630.1,693.9 L632.3,692.9 L634.5,692.0 L636.8,691.2 L639.0,690.5 L641.2,689.9 L643.4,689.4 L645.6,688.8 L647.9,688.3 L650.1,687.8 L652.3,687.2 L654.5,686.5 L656.7,685.7 L658.9,684.8 L661.0,683.8 L663.2,682.8 L665.4,681.6 L667.5,680.5 L669.7,679.3 L671.9,678.1 L674.0,677.0 L676.2,675.9 L678.4,674.8 L680.6,673.9 L682.8,672.9 L685.1,672.0 L687.3,671.2 L689.5,670.3 L691.8,669.4 L694.1,668.5 L696.4,667.6 L698.7,666.7 L701.1,665.7 L703.4,664.8 L705.8,663.8 L708.1,662.9 L710.5,662.0 L712.8,661.1 L715.2,660.3 L717.6,659.6 L719.9,658.9 L722.3,658.3 L724.6,657.7 L727.0,657.1 L729.3,656.6 L731.7,656.0 L734.0,655.5 L736.3,654.8 L738.6,654.2 L740.9,653.4 L743.1,652.6 L745.3,651.7 L747.6,650.8 L749.8,649.9 L751.9,649.0 L754.1,648.1 L756.2,647.2 L758.3,646.4 L760.4,645.7 L762.6,645.0 L764.7,644.4 L766.8,643.9 L768.9,643.3 L771.0,642.6 L773.1,641.9 L775.2,641.1 L777.3,640.2 L779.5,639.1 L781.6,637.9 L783.7,636.5 L785.9,635.1 L788.0,633.6 L790.2,632.0 L792.3,630.5 L794.5,629.0 L796.7,627.7 L798.9,626.4 L801.2,625.3 L803.4,624.4 L805.7,623.6 L807.9,622.9 L810.1,622.2 L812.4,621.5 L814.6,620.8 L816.9,620.1 L819.2,619.3 L821.4,618.4 L823.7,617.4 L826.0,616.4 L828.2,615.2 L830.5,614.1 L832.8,612.9 L835.0,611.8 L837.3,610.7 L839.5,609.7 L841.8,608.7 L844.1,607.9 L846.3,607.1 L848.6,606.3 L850.8,605.6 L853.0,604.9 L855.3,604.2 L857.5,603.4 L859.7,602.6 L861.9,601.7 L864.1,600.7 L866.3,599.6 L868.5,598.5 L870.7,597.3 L872.9,596.1 L875.1,594.9 L877.3,593.8 L879.5,592.6 L881.7,591.5 L883.8,590.4 L886.0,589.4 L888.2,588.5 L890.4,587.6 L892.6,586.7 L894.7,585.9 L896.9,585.1 L899.1,584.3 L901.2,583.5 L903.4,582.7 L905.5,581.9 L907.7,581.1 L909.8,580.2 L912.0,579.3 L914.1,578.4 L916.2,577.4 L918.3,576.3 L920.4,575.2 L922.5,573.9 L924.6,572.5 L926.7,571.1 L928.8,569.7 L930.9,568.2 L933.0,566.7 L935.1,565.3 L937.2,563.9 L939.3,562.6 L941.4,561.3 L943.5,560.2 L945.7,559.2 L947.8,558.3 L950.0,557.5 L952.2,556.6 L954.4,555.8 L956.6,555.0 L958.8,554.2 L961.0,553.4 L963.2,552.5 L965.4,551.6 L967.6,550.6 L969.9,549.6 L972.1,548.5 L974.3,547.4 L976.6,546.3 L978.8,545.2 L981.0,544.1 L983.2,542.9 L985.5,541.8 L987.7,540.7 L989.9,539.6 L992.1,538.5 L994.2,537.4 L996.4,536.3 L998.6,535.2 L1000.8,534.2 L1003.0,533.1 L1005.2,532.1 L1007.3,531.2 L1009.5,530.2 L1011.6,529.3 L1013.8,528.3 L1015.9,527.3 L1018.0,526.3 L1020.1,525.3 L1022.1,524.2 L1024.2,523.1 L1026.2,522.0 L1028.3,520.8 L1030.3,519.5 L1032.4,518.3 L1034.4,517.1 L1036.5,515.8 L1038.5,514.5 L1040.5,513.3 L1042.6,512.0 L1044.6,510.8 L1046.7,509.6 L1048.8,508.3 L1050.8,507.1 L1052.9,505.9 L1055.0,504.7 L1057.0,503.5 L1059.1,502.3 L1061.1,501.0 L1063.2,499.7 L1065.2,498.5 L1067.3,497.1 L1069.3,495.8 L1071.3,494.5 L1073.3,493.1 L1075.3,491.8 L1077.3,490.4 L1079.2,489.0 L1081.2,487.6 L1083.1,486.2 L1085.0,484.7 L1086.9,483.3 L1088.8,481.9 L1090.7,480.4 L1092.6,478.9 L1094.5,477.5 L1096.4,476.1 L1098.3,474.6 L1100.1,473.2 L1102.0,471.7 L1103.9,470.3 L1105.8,468.9 L1107.7,467.4 L1109.5,466.0 L1111.4,464.5 L1113.3,463.0 L1115.2,461.5 L1117.0,459.9 L1118.9,458.3 L1120.7,456.8 L1122.6,455.1 L1124.5,453.5 L1126.3,451.9 L1128.1,450.3 L1130.0,448.6 L1131.8,447.0 L1133.6,445.4 L1135.5,443.8 L1137.3,442.2 L1139.1,440.6 L1140.9,439.0 L1142.7,437.4 L1144.5,435.8 L1146.3,434.3 L1148.1,432.8 L1149.9,431.2 L1151.7,429.7 L1153.5,428.2 L1155.3,426.7 L1157.1,425.2 L1158.8,423.8 L1160.6,422.3 L1162.4,420.9 L1164.1,419.4 L1165.9,418.0 L1167.7,416.5 L1169.4,415.1 L1171.2,413.6 L1172.9,412.0 L1174.7,410.5 L1176.4,408.8 L1178.2,407.2 L1179.9,405.4 L1181.6,403.5 L1183.3,401.6 L1185.0,399.7 L1186.7,397.7 L1188.3,395.7 L1190.0,393.7 L1191.7,391.7 L1193.3,389.8 L1195.0,387.9 L1196.6,386.2 L1198.3,384.5 L1199.9,382.9 L1201.6,381.3 L1203.2,379.7 L1204.8,378.2 L1206.5,376.7 L1208.1,375.1 L1209.7,373.5 L1211.3,371.8 L1212.9,370.1 L1214.5,368.3 L1216.1,366.4 L1217.7,364.5 L1219.3,362.6 L1221.0,360.7 L1222.6,358.8 L1224.3,356.9 L1226.0,354.9 L1227.7,353.0 L1229.4,351.2 L1231.2,349.4 L1232.9,347.6 L1234.6,345.9 L1236.4,344.2 L1238.1,342.5 L1239.8,340.9 L1241.4,339.4 L1243.1,337.9 L1244.6,336.4 L1246.2,335.0 L1247.6,333.5 L1249.1,331.9 L1250.5,330.3 L1251.9,328.5 L1253.3,326.7 L1254.8,324.7 L1256.3,322.7 L1257.9,320.6 L1259.5,318.5 L1261.1,316.4 L1262.8,314.4 L1264.4,312.4 L1266.1,310.5 L1267.7,308.6 L1269.4,306.8 L1271.0,305.1 L1272.6,303.6 L1274.2,302.0 L1275.8,300.5 L1277.4,299.0 L1279.0,297.5 L1280.6,295.9 L1282.2,294.3 L1283.8,292.6 L1285.3,290.8 L1286.9,288.9 L1288.4,286.9 L1289.9,284.8 L1291.5,282.6 L1293.0,280.5 L1294.5,278.3 L1296.0,276.2 L1297.5,274.1 L1299.0,272.2 L1300.5,270.3 L1302.0,268.5 L1303.4,266.7 L1304.8,264.9 L1306.2,263.2 L1307.7,261.4 L1309.1,259.7 L1310.6,257.9 L1312.0,256.0 L1313.5,254.2 L1315.0,252.3 L1316.5,250.4 L1318.0,248.4 L1319.5,246.4 L1321.0,244.4 L1322.5,242.4 L1324.1,240.4 L1325.6,238.4 L1327.2,236.4 L1328.8,234.5 L1330.4,232.5 L1332.0,230.6 L1333.6,228.8 L1335.2,226.9 L1336.9,225.1 L1338.5,223.3 L1340.1,221.5 L1341.8,219.8 L1343.4,218.1 L1345.0,216.5 L1346.7,214.8 L1348.5,213.2 L1350.4,211.7 L1352.5,210.2 L1354.5,208.8 L1356.5,207.5 L1358.3,206.1 L1359.8,204.6 L1361.0,203.1 L1362.0,201.3 L1362.8,199.3 L1363.7,197.1 L1364.4,194.7 L1365.0,192.2 L1365.4,189.6 L1365.7,186.8" stroke="#ED7D31" stroke-width="7.4"/>
</g>
<g class="c">
<path d="M868.0,516.5 L869.8,514.5 L871.7,512.4 L873.6,510.4 L875.4,508.4 L877.3,506.3 L879.2,504.3 L881.0,502.3 L882.9,500.3 L884.8,498.3 L886.7,496.3 L888.6,494.3 L890.5,492.3 L892.4,490.3 L894.3,488.3 L896.2,486.3 L898.2,484.4 L900.1,482.4 L902.0,480.4 L904.0,478.5 L905.9,476.5 L907.9,474.6 L909.8,472.7 L911.8,470.8 L913.8,468.9 L915.8,467.0 L917.8,465.1 L919.9,463.3 L921.9,461.4 L924.0,459.6 L926.0,457.7 L928.1,455.9 L930.1,454.1 L932.2,452.2 L934.2,450.4 L936.3,448.5 L938.3,446.7 L940.3,444.8 L942.4,442.9 L944.4,441.1 L946.4,439.2 L948.3,437.2 L950.3,435.3 L952.3,433.4 L954.2,431.4 L956.1,429.5 L958.1,427.5 L960.0,425.6 L961.9,423.6 L963.9,421.6 L965.8,419.7 L967.7,417.7 L969.7,415.7 L971.6,413.8 L973.6,411.8 L975.5,409.9 L977.5,408.0 L979.4,406.0 L981.4,404.1 L983.3,402.1 L985.2,400.1 L987.2,398.2 L989.1,396.2 L991.1,394.3 L993.0,392.3 L995.0,390.4 L996.9,388.5 L998.9,386.5 L1000.9,384.6 L1002.9,382.7 L1004.9,380.8 L1006.9,378.9 L1008.9,377.0 L1010.9,375.2 L1012.9,373.3 L1014.9,371.4 L1017.0,369.6 L1019.0,367.7 L1021.1,365.9 L1023.2,364.1 L1025.3,362.4 L1027.5,360.6 L1029.6,359.0 L1031.9,357.4 L1034.1,355.8 L1036.4,354.3 L1038.7,352.8 L1041.0,351.3 L1043.3,349.8 L1045.7,348.3 L1048.0,346.9 L1050.4,345.4 L1052.7,343.9 L1055.0,342.4 L1057.3,340.9 L1059.6,339.4 L1061.9,337.8 L1064.2,336.3 L1066.5,334.8 L1068.8,333.3 L1071.1,331.7 L1073.4,330.2 L1075.7,328.7 L1077.9,327.1 L1080.2,325.6 L1082.5,324.0 L1084.8,322.4 L1087.0,320.9 L1089.3,319.3 L1091.5,317.7 L1093.7,316.1 L1095.9,314.4 L1098.1,312.8 L1100.3,311.1 L1102.5,309.4 L1104.6,307.7 L1106.7,305.9 L1108.8,304.1 L1110.9,302.3 L1113.0,300.5" stroke="#5B9BD5" stroke-width="7.4" stroke-dasharray="21.7 28.3" stroke-dashoffset="0"/>
<path d="M1113.0,300.5 L1114.1,299.6 L1115.2,298.7 L1116.2,297.8 L1117.3,296.9 L1118.4,296.0 L1119.5,295.1 L1120.6,294.3 L1121.7,293.4 L1122.8,292.5 L1123.9,291.6 L1125.0,290.8 L1126.1,289.9 L1127.3,289.1 L1128.4,288.2 L1129.5,287.4 L1130.6,286.5 L1131.8,285.7 L1132.9,284.9 L1134.0,284.1 L1135.2,283.3 L1136.3,282.4 L1137.5,281.6 L1138.6,280.8 L1139.8,280.0 L1141.0,279.3 L1142.1,278.5 L1143.3,277.7 L1144.4,276.9 L1145.6,276.1 L1146.7,275.3 L1147.9,274.5 L1149.1,273.7 L1150.2,272.9 L1151.3,272.0 L1152.5,271.2 L1153.6,270.4 L1154.8,269.5 L1155.9,268.7 L1157.0,267.8 L1158.1,267.0 L1159.3,266.1 L1160.4,265.3 L1161.5,264.4 L1162.6,263.6 L1163.8,262.7 L1164.9,261.9 L1166.0,261.0 L1167.2,260.2 L1168.3,259.4 L1169.5,258.6 L1170.6,257.8 L1171.8,257.0 L1172.9,256.2 L1174.1,255.4 L1175.3,254.7 L1176.4,253.9 L1177.6,253.2 L1178.8,252.5 L1180.0,251.8 L1181.3,251.2 L1182.5,250.5 L1183.7,249.8 L1184.9,249.2 L1186.2,248.5 L1187.4,247.9 L1188.7,247.3 L1189.9,246.6 L1191.2,246.0 L1192.5,245.4 L1193.7,244.8 L1195.0,244.2 L1196.3,243.6 L1197.5,243.0 L1198.8,242.4 L1200.1,241.9 L1201.4,241.3 L1202.7,240.7 L1204.0,240.1 L1205.3,239.6 L1206.6,239.0 L1207.9,238.4 L1209.1,237.8 L1210.4,237.3 L1211.7,236.7 L1213.0,236.1 L1214.3,235.6 L1215.6,235.0 L1216.9,234.4 L1218.2,233.8 L1219.5,233.3 L1220.8,232.7 L1222.0,232.1 L1223.3,231.5 L1224.6,230.9 L1225.9,230.3 L1227.1,229.7 L1228.4,229.1 L1229.7,228.5 L1231.0,227.9 L1232.2,227.3 L1233.5,226.7 L1234.8,226.1 L1236.0,225.5 L1237.3,224.9 L1238.6,224.3 L1239.9,223.7 L1241.1,223.1 L1242.4,222.5 L1243.7,221.9 L1244.9,221.3 L1246.2,220.7 L1247.5,220.1 L1248.8,219.5 L1250.0,219.0 L1251.3,218.4 L1252.6,217.8 L1253.8,217.2 L1255.1,216.6 L1256.4,216.0 L1257.7,215.4 L1258.9,214.8 L1260.2,214.2 L1261.5,213.6 L1262.8,213.0 L1264.0,212.4 L1265.3,211.8 L1266.6,211.2 L1267.9,210.7 L1269.1,210.1 L1270.4,209.5 L1271.7,208.9 L1273.0,208.3 L1274.3,207.7 L1275.5,207.1 L1276.8,206.6 L1278.1,206.0 L1279.4,205.4 L1280.6,204.8 L1281.9,204.2 L1283.2,203.6 L1284.5,203.0 L1285.7,202.4 L1287.0,201.9 L1288.3,201.3 L1289.6,200.7 L1290.9,200.1 L1292.1,199.5 L1293.4,198.9 L1294.7,198.3 L1296.0,197.8 L1297.3,197.2 L1298.5,196.6 L1299.8,196.0 L1301.1,195.5 L1302.4,194.9 L1303.7,194.3 L1305.0,193.8 L1306.2,193.2 L1307.5,192.6 L1308.8,192.1 L1310.1,191.5 L1311.4,191.0 L1312.7,190.4 L1314.0,189.9 L1315.3,189.3 L1316.6,188.8 L1317.9,188.3 L1319.2,187.7 L1320.5,187.2 L1321.8,186.7 L1323.1,186.2 L1324.4,185.7 L1325.7,185.2 L1327.0,184.7 L1328.3,184.2 L1329.7,183.7 L1331.0,183.2 L1332.3,182.7 L1333.6,182.2 L1334.9,181.7 L1336.3,181.2 L1337.6,180.7 L1338.9,180.3 L1340.2,179.8 L1341.5,179.3 L1342.9,178.8 L1344.2,178.3 L1345.5,177.8 L1346.8,177.3 L1348.1,176.8 L1349.4,176.4 L1350.8,175.9 L1352.1,175.4 L1353.4,174.9 L1354.7,174.4 L1356.0,173.9 L1357.4,173.5 L1358.7,173.0 L1360.0,172.5" stroke="#5B9BD5" stroke-width="7.4" stroke-dasharray="21.7 28.3" stroke-dashoffset="29.3"/>
<path d="M1358.5,173.8 L1358.4,176.5 L1358.2,179.0 L1357.9,181.3 L1357.4,183.4 L1356.8,185.4 L1355.6,187.4 L1353.7,189.2 L1351.7,190.6 L1349.8,191.6 L1347.8,192.4 L1345.7,193.2 L1343.5,193.8 L1341.2,194.4 L1338.9,195.0 L1336.5,195.5 L1334.1,196.0 L1331.6,196.4 L1329.2,196.9 L1326.8,197.4 L1324.4,197.9 L1322.0,198.5 L1319.7,199.1 L1317.5,199.8 L1315.2,200.5 L1313.0,201.2 L1310.8,202.0 L1308.5,202.8 L1306.3,203.6 L1304.1,204.4 L1301.9,205.2 L1299.7,206.1 L1297.4,206.9 L1295.2,207.8 L1293.0,208.7 L1290.8,209.6 L1288.6,210.4 L1286.4,211.3 L1284.2,212.2 L1282.0,213.1 L1279.8,214.0 L1277.6,214.9 L1275.4,215.8 L1273.2,216.6 L1271.0,217.5 L1268.8,218.3 L1266.6,219.2 L1264.4,220.1 L1262.2,220.9 L1260.0,221.8 L1257.8,222.6 L1255.6,223.5 L1253.4,224.4 L1251.2,225.2 L1249.0,226.1 L1246.8,227.0 L1244.6,227.8 L1242.4,228.7 L1240.2,229.6 L1238.0,230.4 L1235.8,231.3 L1233.6,232.2 L1231.4,233.1 L1229.2,234.0 L1227.0,234.9 L1224.8,235.8 L1222.6,236.7 L1220.4,237.6 L1218.2,238.5 L1216.0,239.4 L1213.8,240.3 L1211.7,241.2 L1209.5,242.1 L1207.3,243.1 L1205.2,244.0 L1203.0,245.0 L1200.8,245.9 L1198.7,246.9 L1196.5,247.9 L1194.3,248.8 L1192.2,249.8 L1190.0,250.7 L1187.8,251.7 L1185.7,252.6 L1183.5,253.5 L1181.3,254.5 L1179.1,255.4 L1176.9,256.3 L1174.7,257.2 L1172.5,258.0 L1170.3,258.9 L1168.1,259.8 L1165.9,260.7 L1163.7,261.5 L1161.5,262.4 L1159.3,263.3 L1157.1,264.1 L1154.9,265.0 L1152.7,265.8 L1150.5,266.7 L1148.3,267.5 L1146.1,268.4 L1143.9,269.3 L1141.7,270.1 L1139.5,271.0 L1137.3,271.8 L1135.0,272.7 L1132.8,273.6 L1130.6,274.4 L1128.4,275.3 L1126.2,276.2 L1124.0,277.0 L1121.8,277.9 L1119.6,278.8 L1117.4,279.6 L1115.2,280.5 L1113.0,281.4 L1110.8,282.3 L1108.6,283.1 L1106.4,284.0 L1104.2,284.9 L1102.0,285.7 L1099.8,286.6 L1097.6,287.5 L1095.4,288.4 L1093.2,289.2 L1091.0,290.1 L1088.8,291.0 L1086.6,291.9 L1084.4,292.7 L1082.2,293.6 L1080.0,294.5 L1077.8,295.4 L1075.6,296.2 L1073.4,297.1 L1071.2,298.0 L1069.0,298.9 L1066.8,299.7 L1064.6,300.6 L1062.4,301.5 L1060.2,302.4 L1058.0,303.2 L1055.8,304.1 L1053.6,305.0 L1051.4,305.9 L1049.2,306.8 L1047.0,307.6 L1044.9,308.5 L1042.7,309.4 L1040.5,310.3 L1038.3,311.2 L1036.1,312.1 L1033.9,313.0 L1031.7,313.9 L1029.5,314.7 L1027.3,315.6 L1025.1,316.5 L1022.9,317.4 L1020.7,318.3 L1018.5,319.1 L1016.3,320.0 L1014.1,320.9 L1011.9,321.8 L1009.7,322.7 L1007.5,323.6 L1005.4,324.5 L1003.2,325.5 L1001.0,326.4 L998.8,327.3 L996.6,328.2 L994.5,329.2 L992.3,330.1 L990.2,331.1 L988.0,332.1 L985.8,333.1 L983.7,334.1 L981.6,335.1 L979.4,336.1 L977.3,337.1 L975.1,338.1 L973.0,339.1 L970.9,340.2 L968.7,341.2 L966.6,342.2 L964.5,343.2 L962.3,344.3 L960.2,345.3 L958.1,346.3 L955.9,347.4 L953.8,348.4 L951.7,349.4 L949.5,350.4 L947.4,351.4 L945.2,352.4 L943.1,353.4 L941.0,354.4 L938.8,355.4 L936.7,356.4 L934.5,357.5 L932.4,358.5 L930.2,359.5 L928.1,360.5 L926.0,361.5 L923.8,362.5 L921.7,363.5 L919.5,364.5 L917.4,365.5 L915.2,366.5 L913.1,367.5 L910.9,368.5 L908.8,369.5 L906.6,370.5 L904.5,371.5 L902.4,372.5 L900.2,373.5 L898.0,374.5 L895.9,375.4 L893.7,376.4 L891.6,377.4 L889.4,378.3 L887.2,379.3 L885.1,380.3 L882.9,381.2 L880.7,382.2 L878.6,383.2 L876.4,384.2 L874.3,385.2 L872.1,386.2 L870.0,387.2 L867.9,388.2 L865.7,389.2 L863.6,390.3 L861.5,391.4 L859.4,392.5 L857.4,393.6 L855.3,394.7 L853.2,395.8 L851.2,397.0 L849.1,398.2 L847.1,399.3 L845.0,400.5 L843.0,401.7 L841.0,402.9 L838.9,404.2 L836.9,405.4 L834.9,406.6 L832.9,407.9 L830.9,409.1 L828.9,410.4 L826.9,411.7 L824.9,412.9 L822.9,414.2 L820.9,415.5 L818.9,416.8 L816.9,418.1 L814.9,419.3 L812.9,420.6 L810.9,421.9 L808.9,423.2 L806.9,424.5 L804.9,425.7 L802.9,427.0 L800.9,428.3 L798.9,429.5 L796.9,430.8 L794.8,432.0 L792.8,433.3 L790.8,434.5 L788.8,435.7 L786.8,437.0 L784.7,438.2 L782.7,439.4 L780.6,440.6 L778.6,441.8 L776.6,443.0 L774.5,444.2 L772.5,445.4 L770.4,446.6 L768.4,447.8 L766.3,449.0 L764.3,450.2 L762.2,451.4 L760.2,452.6 L758.2,453.8 L756.1,455.0 L754.1,456.2 L752.1,457.4 L750.0,458.6 L748.0,459.9 L746.0,461.1 L744.0,462.3 L742.0,463.6 L740.0,464.8 L738.0,466.1 L736.0,467.4 L734.0,468.7 L732.0,469.9 L730.0,471.2 L728.1,472.5 L726.1,473.9 L724.1,475.2 L722.2,476.5 L720.2,477.8 L718.3,479.2 L716.3,480.5 L714.4,481.9 L712.4,483.2 L710.5,484.6 L708.5,485.9 L706.6,487.3 L704.7,488.7 L702.7,490.0 L700.8,491.4 L698.9,492.8 L697.0,494.2 L695.0,495.6 L693.1,496.9 L691.2,498.3 L689.3,499.7 L687.4,501.1 L685.5,502.5 L683.5,503.9 L681.6,505.3 L679.7,506.7 L677.8,508.1 L675.9,509.5 L674.0,510.9 L672.1,512.3 L670.2,513.7 L668.3,515.2 L666.4,516.6 L664.5,518.0 L662.6,519.4 L660.8,520.9 L658.9,522.3 L657.0,523.7 L655.1,525.2 L653.2,526.6 L651.3,528.0 L649.5,529.5 L647.6,530.9 L645.7,532.4 L643.9,533.8 L642.0,535.3 L640.1,536.7 L638.2,538.2 L636.4,539.7 L634.5,541.1 L632.6,542.6 L630.8,544.0 L628.9,545.5 L627.1,547.0 L625.2,548.4 L623.3,549.9 L621.5,551.3 L619.6,552.8 L617.8,554.3 L615.9,555.8 L614.1,557.2 L612.2,558.7 L610.4,560.2 L608.5,561.7 L606.7,563.2 L604.8,564.7 L603.0,566.1 L601.2,567.6 L599.3,569.1 L597.5,570.6 L595.6,572.1 L593.8,573.6 L592.0,575.1 L590.1,576.6 L588.3,578.1 L586.5,579.6 L584.6,581.1 L582.8,582.6 L580.9,584.0 L579.1,585.5 L577.3,587.0 L575.4,588.5 L573.6,590.0 L571.8,591.5 L569.9,593.0 L568.1,594.5 L566.2,596.0 L564.4,597.4 L562.5,598.9 L560.7,600.4 L558.8,601.9 L557.0,603.4 L555.1,604.9 L553.3,606.3 L551.5,607.8 L549.6,609.3 L547.8,610.8 L545.9,612.3 L544.1,613.8 L542.3,615.3 L540.4,616.8 L538.6,618.3 L536.8,619.8 L534.9,621.3 L533.1,622.8 L531.3,624.3 L529.5,625.9 L527.7,627.4 L525.9,628.9 L524.1,630.5 L522.3,632.0 L520.6,633.6 L518.8,635.2 L517.0,636.7 L515.2,638.3 L513.5,639.9 L511.7,641.5 L510.0,643.0 L508.2,644.6 L506.5,646.2 L504.7,647.8 L503.0,649.4 L501.2,651.0 L499.5,652.6 L497.7,654.2 L496.0,655.8 L494.2,657.4 L492.5,659.0 L490.7,660.6 L489.0,662.2 L487.2,663.8 L485.5,665.4 L483.7,667.0 L482.0,668.6 L480.2,670.2 L478.5,671.8 L476.7,673.4 L475.0,675.0 L473.2,676.5 L471.5,678.1 L469.7,679.7 L468.0,681.3 L466.2,682.9 L464.4,684.5 L462.7,686.1 L460.9,687.7 L459.2,689.3 L457.4,690.9 L455.7,692.5 L454.0,694.1 L452.2,695.7 L450.5,697.3 L448.7,698.9 L447.0,700.5 L445.3,702.1 L443.5,703.7 L441.8,705.3 L440.1,706.9 L438.3,708.5 L436.6,710.2 L434.9,711.8 L433.1,713.4 L431.4,715.0 L429.7,716.7 L428.0,718.3 L426.3,720.0 L424.6,721.6 L423.0,723.3 L421.3,725.0 L419.7,726.7 L418.0,728.4 L416.4,730.1 L414.7,731.8 L413.1,733.6 L411.5,735.3 L409.8,737.0 L408.2,738.8 L406.6,740.5 L405.0,742.3 L403.5,744.1 L401.9,745.8 L400.3,747.6 L398.8,749.4 L397.3,751.3 L395.8,753.1 L394.4,754.9 L392.9,756.8 L391.5,758.7 L390.1,760.6 L388.7,762.5 L387.4,764.4 L386.0,766.3 L384.7,768.3 L383.4,770.3 L382.1,772.2 L380.8,774.2 L379.5,776.2 L378.3,778.3 L377.1,780.3 L375.9,782.4 L374.7,784.4 L373.5,786.5" stroke="#5B9BD5" stroke-width="7.4" stroke-dasharray="21.7 28.3" stroke-dashoffset="0"/>
<path d="M373.5,786.5 L375.9,786.0 L378.3,785.5 L380.7,785.0 L383.1,784.5 L385.5,784.0 L387.9,783.5 L390.3,783.0 L392.7,782.5 L395.1,782.0 L397.4,781.5 L399.8,781.0 L402.2,780.5 L404.6,780.0 L407.0,779.5 L409.4,779.0 L411.8,778.5 L414.2,778.0 L416.6,777.5 L419.0,777.0 L421.4,776.5 L423.8,776.0 L426.2,775.5 L428.5,775.0 L430.9,774.5 L433.3,773.9 L435.7,773.4 L438.1,772.9 L440.5,772.4 L442.9,771.9 L445.3,771.4 L447.7,770.8 L450.0,770.3 L452.4,769.8 L454.8,769.3 L457.2,768.8 L459.6,768.2 L462.0,767.7 L464.4,767.2 L466.8,766.7 L469.2,766.1 L471.5,765.6 L473.9,765.1 L476.3,764.6 L478.7,764.0 L481.1,763.5 L483.5,763.0 L485.9,762.4 L488.2,761.9 L490.6,761.4 L493.0,760.8 L495.4,760.3 L497.8,759.7 L500.2,759.2 L502.6,758.6 L504.9,758.1 L507.3,757.6 L509.7,757.0 L512.1,756.5 L514.5,755.9 L516.8,755.4 L519.2,754.8 L521.6,754.3 L524.0,753.7 L526.4,753.2 L528.8,752.6 L531.1,752.1 L533.5,751.5 L535.9,750.9 L538.3,750.4 L540.7,749.8 L543.0,749.3 L545.4,748.7 L547.8,748.2 L550.2,747.6 L552.6,747.0 L554.9,746.5 L557.3,745.9 L559.7,745.4 L562.1,744.8 L564.5,744.2 L566.8,743.7 L569.2,743.1 L571.6,742.6 L574.0,742.0 L576.4,741.5 L578.8,740.9 L581.1,740.3 L583.5,739.8 L585.9,739.2 L588.3,738.6 L590.6,738.1 L593.0,737.5 L595.4,736.9 L597.8,736.4 L600.2,735.8 L602.5,735.2 L604.9,734.7 L607.3,734.1 L609.7,733.5 L612.0,733.0 L614.4,732.4 L616.8,731.8 L619.2,731.2 L621.6,730.7 L623.9,730.1 L626.3,729.5 L628.7,729.0 L631.1,728.4 L633.4,727.8 L635.8,727.2 L638.2,726.7 L640.6,726.1 L643.0,725.5 L645.3,725.0 L647.7,724.4 L650.1,723.8 L652.5,723.3 L654.8,722.7 L657.2,722.2 L659.6,721.6 L662.0,721.0 L664.4,720.5 L666.7,719.9 L669.1,719.4 L671.5,718.8 L673.9,718.3 L676.3,717.7 L678.7,717.2 L681.0,716.6 L683.4,716.1 L685.8,715.6 L688.2,715.0 L690.6,714.5 L693.0,713.9 L695.4,713.4 L697.7,712.8 L700.1,712.3 L702.5,711.7 L704.9,711.2 L707.3,710.6 L709.6,710.1 L712.0,709.5 L714.4,709.0 L716.8,708.4 L719.2,707.8 L721.5,707.3 L723.9,706.7 L726.3,706.1 L728.7,705.5 L731.0,704.9 L733.4,704.4 L735.8,703.8 L738.2,703.2 L740.6,702.7 L743.0,702.1 L745.3,701.5 L747.7,700.9 L750.1,700.3 L752.5,699.8 L754.9,699.2 L757.2,698.6 L759.6,697.9 L762.0,697.3 L764.3,696.7 L766.7,696.0 L769.0,695.3 L771.4,694.7 L773.7,694.0 L776.0,693.2 L778.3,692.5 L780.6,691.7 L782.9,690.9 L785.2,690.1 L787.5,689.3 L789.8,688.4 L792.1,687.5 L794.3,686.6 L796.6,685.7 L798.9,684.8 L801.1,683.8 L803.4,682.9 L805.7,681.9 L807.9,680.9 L810.1,679.9 L812.4,678.9 L814.6,677.9 L816.9,676.9 L819.1,675.9 L821.3,674.9 L823.5,673.9 L825.8,672.9 L828.0,671.9 L830.2,670.8 L832.4,669.8 L834.6,668.8 L836.8,667.7 L839.1,666.7 L841.3,665.6 L843.4,664.5 L845.6,663.4 L847.8,662.3 L850.0,661.2 L852.2,660.1 L854.4,659.0 L856.6,657.9 L858.7,656.8 L860.9,655.7 L863.1,654.5 L865.3,653.4 L867.4,652.3 L869.6,651.1 L871.7,650.0 L873.9,648.9 L876.0,647.7 L878.2,646.5 L880.3,645.3 L882.5,644.1 L884.6,642.9 L886.7,641.7 L888.8,640.5 L891.0,639.3 L893.1,638.1 L895.2,636.9 L897.3,635.7 L899.4,634.4 L901.6,633.2 L903.7,632.0 L905.8,630.8 L908.0,629.6 L910.1,628.4 L912.2,627.2 L914.4,626.0 L916.5,624.9 L918.6,623.7 L920.8,622.5 L922.9,621.4 L925.1,620.2 L927.3,619.0 L929.4,617.9 L931.6,616.7 L933.7,615.6 L935.9,614.4 L938.0,613.3 L940.2,612.1 L942.3,611.0 L944.5,609.8 L946.6,608.6 L948.8,607.5 L950.9,606.3 L953.1,605.1 L955.2,603.9 L957.4,602.7 L959.5,601.6 L961.6,600.4 L963.8,599.2 L965.9,598.0 L968.1,596.8 L970.2,595.6 L972.3,594.4 L974.5,593.2 L976.6,592.0 L978.7,590.8 L980.8,589.6 L983.0,588.4 L985.1,587.1 L987.2,585.9 L989.3,584.6 L991.4,583.4 L993.4,582.1 L995.5,580.8 L997.6,579.5 L999.6,578.2 L1001.7,576.9 L1003.7,575.5 L1005.7,574.2 L1007.8,572.8 L1009.8,571.4 L1011.8,570.0 L1013.8,568.6 L1015.8,567.2 L1017.8,565.8 L1019.8,564.4 L1021.8,563.0 L1023.8,561.6 L1025.8,560.2 L1027.8,558.7 L1029.8,557.3 L1031.8,555.9 L1033.8,554.5 L1035.7,553.0 L1037.7,551.6 L1039.7,550.2 L1041.7,548.8 L1043.7,547.4 L1045.7,545.9 L1047.7,544.5 L1049.7,543.1 L1051.7,541.7 L1053.6,540.2 L1055.6,538.8 L1057.6,537.4 L1059.6,535.9 L1061.6,534.5 L1063.5,533.0 L1065.5,531.6 L1067.5,530.2 L1069.5,528.7 L1071.4,527.3 L1073.4,525.8 L1075.4,524.4 L1077.4,522.9 L1079.3,521.5 L1081.3,520.0 L1083.3,518.6 L1085.2,517.1 L1087.2,515.7 L1089.2,514.2 L1091.1,512.8 L1093.1,511.3 L1095.0,509.8 L1097.0,508.4 L1098.9,506.9 L1100.9,505.4 L1102.9,504.0 L1104.8,502.5 L1106.8,501.0 L1108.8,499.6 L1110.7,498.1 L1112.7,496.7 L1114.7,495.3 L1116.7,493.9 L1118.7,492.4 L1120.7,491.0 L1122.7,489.7 L1124.7,488.3 L1126.7,486.9 L1128.8,485.6 L1130.9,484.3 L1132.9,482.9 L1135.0,481.6 L1137.1,480.3 L1139.2,479.0 L1141.2,477.7 L1143.3,476.4 L1145.4,475.1 L1147.4,473.8 L1149.5,472.4 L1151.5,471.1 L1153.5,469.7 L1155.5,468.3 L1157.5,466.9 L1159.5,465.5 L1161.4,464.0 L1163.4,462.6 L1165.3,461.1 L1167.2,459.5 L1169.1,458.0 L1171.0,456.4 L1172.8,454.9 L1174.7,453.3 L1176.6,451.7 L1178.4,450.1 L1180.2,448.4 L1182.1,446.8 L1183.9,445.1 L1185.7,443.5 L1187.5,441.8 L1189.2,440.1 L1191.0,438.4 L1192.8,436.7 L1194.5,435.0 L1196.2,433.2 L1197.9,431.5 L1199.7,429.8 L1201.3,428.0 L1203.0,426.2 L1204.7,424.5 L1206.4,422.7 L1208.0,420.9 L1209.6,419.1 L1211.3,417.2 L1212.9,415.4 L1214.5,413.5 L1216.1,411.7 L1217.7,409.8 L1219.3,407.9 L1220.8,406.0 L1222.4,404.1 L1223.9,402.2 L1225.5,400.3 L1227.0,398.4 L1228.5,396.5 L1230.0,394.6 L1231.5,392.7 L1233.0,390.7 L1234.4,388.8 L1235.9,386.8 L1237.3,384.8 L1238.7,382.8 L1240.1,380.8 L1241.5,378.8 L1242.9,376.8 L1244.3,374.8 L1245.6,372.7 L1247.0,370.7 L1248.4,368.7 L1249.7,366.6 L1251.1,364.6 L1252.4,362.6 L1253.8,360.5 L1255.2,358.5 L1256.5,356.5 L1257.9,354.5 L1259.3,352.5 L1260.7,350.5 L1262.2,348.5 L1263.6,346.5 L1265.0,344.5 L1266.5,342.6 L1268.0,340.6 L1269.4,338.6 L1270.9,336.7 L1272.4,334.7 L1273.8,332.8 L1275.3,330.8 L1276.8,328.9 L1278.3,326.9 L1279.8,325.0 L1281.2,323.0 L1282.7,321.1 L1284.2,319.2 L1285.7,317.2 L1287.2,315.3 L1288.7,313.3 L1290.1,311.4 L1291.6,309.4 L1293.1,307.5 L1294.5,305.5 L1296.0,303.5 L1297.4,301.6 L1298.9,299.6 L1300.3,297.6 L1301.7,295.6 L1303.2,293.6 L1304.6,291.7 L1306.1,289.7 L1307.6,287.7 L1309.1,285.8 L1310.6,283.8 L1312.1,281.8 L1313.6,279.9 L1315.0,277.9 L1316.5,275.9 L1318.0,273.9 L1319.5,272.0 L1320.9,270.0 L1322.4,268.0 L1323.8,266.0 L1325.3,264.0 L1326.7,262.0 L1328.1,260.0 L1329.4,257.9 L1330.8,255.9 L1332.1,253.9 L1333.4,251.8 L1334.6,249.7 L1335.9,247.6 L1337.0,245.6 L1338.2,243.4 L1339.3,241.3 L1340.4,239.2 L1341.5,237.0 L1342.6,234.8 L1343.7,232.6 L1344.9,230.4 L1346.0,228.2 L1347.1,226.0 L1348.1,223.7 L1349.2,221.4 L1350.2,219.2 L1351.1,216.9 L1352.0,214.6 L1352.9,212.2 L1353.6,209.9 L1354.3,207.6 L1355.0,205.3 L1355.5,202.9 L1355.9,200.6 L1356.3,198.2 L1356.6,195.8 L1356.9,193.4 L1357.3,191.0 L1357.6,188.6 L1357.8,186.2 L1358.1,183.7 L1358.2,181.2 L1358.4,178.8 L1358.5,176.3 L1358.5,173.8" stroke="#5B9BD5" stroke-width="7.4" stroke-dasharray="21.7 28.3" stroke-dashoffset="9"/>
<path d="M1361.5,213.0 L1359.7,214.6 L1357.9,216.2 L1356.1,217.7 L1354.2,219.2 L1352.3,220.6 L1350.4,221.9 L1348.4,223.1 L1346.4,224.3 L1344.4,225.4 L1342.4,226.4 L1340.3,227.4 L1338.2,228.2 L1336.1,229.0 L1333.8,229.7 L1331.6,230.4 L1329.3,231.0 L1327.1,231.6 L1324.8,232.3 L1322.6,232.9 L1320.4,233.6 L1318.1,234.2 L1315.9,234.8 L1313.6,235.5 L1311.4,236.1 L1309.2,236.7 L1306.9,237.3 L1304.7,237.9 L1302.4,238.5 L1300.2,239.1 L1297.9,239.7 L1295.7,240.3 L1293.5,240.9 L1291.2,241.6 L1289.0,242.2 L1286.7,242.8 L1284.5,243.4 L1282.2,244.0 L1280.0,244.6 L1277.8,245.2 L1275.5,245.8 L1273.3,246.5 L1271.0,247.1 L1268.8,247.7 L1266.5,248.3 L1264.3,248.9 L1262.0,249.5 L1259.8,250.1 L1257.6,250.7 L1255.3,251.3 L1253.1,251.9 L1250.8,252.6 L1248.6,253.2 L1246.3,253.8 L1244.1,254.4 L1241.9,255.0 L1239.6,255.6 L1237.4,256.2 L1235.1,256.8 L1232.9,257.4 L1230.6,257.9 L1228.4,258.5 L1226.1,259.1 L1223.9,259.8 L1221.6,260.4 L1219.4,261.0 L1217.2,261.7 L1214.9,262.3 L1212.7,263.0 L1210.5,263.7 L1208.3,264.4 L1206.1,265.1 L1203.9,265.8 L1201.7,266.6 L1199.5,267.3 L1197.3,268.1 L1195.1,268.8 L1192.9,269.6 L1190.7,270.3 L1188.5,271.1 L1186.3,271.9 L1184.1,272.6 L1181.9,273.4 L1179.7,274.1 L1177.5,274.9 L1175.3,275.6 L1173.1,276.4 L1170.9,277.2 L1168.7,277.9 L1166.5,278.7 L1164.3,279.5 L1162.1,280.2 L1159.9,281.0 L1157.7,281.7 L1155.5,282.5 L1153.3,283.2 L1151.1,283.9 L1148.9,284.7 L1146.7,285.4 L1144.4,286.0 L1142.2,286.7 L1140.0,287.4 L1137.7,288.0 L1135.5,288.7 L1133.3,289.3 L1131.0,289.9 L1128.8,290.6 L1126.6,291.2 L1124.3,291.9 L1122.1,292.5 L1119.9,293.2 L1117.7,293.9 L1115.4,294.6 L1113.2,295.3 L1111.0,296.1 L1108.9,296.9 L1106.7,297.6 L1104.5,298.4 L1102.3,299.3 L1100.2,300.1 L1098.0,301.0 L1095.8,301.8 L1093.7,302.7 L1091.5,303.6 L1089.4,304.5 L1087.2,305.4 L1085.1,306.3 L1082.9,307.2 L1080.8,308.1 L1078.6,309.0 L1076.5,309.9 L1074.3,310.8 L1072.2,311.6 L1070.1,312.5 L1067.9,313.4 L1065.8,314.4 L1063.6,315.3 L1061.5,316.2 L1059.4,317.1 L1057.2,318.0 L1055.1,318.9 L1053.0,319.9 L1050.8,320.8 L1048.7,321.7 L1046.6,322.7 L1044.4,323.6 L1042.3,324.5 L1040.2,325.5 L1038.1,326.4 L1035.9,327.4 L1033.8,328.3 L1031.7,329.3 L1029.6,330.3 L1027.5,331.3 L1025.4,332.3 L1023.3,333.3 L1021.2,334.3 L1019.1,335.3 L1017.0,336.3 L1014.9,337.3 L1012.8,338.3 L1010.7,339.2 L1008.6,340.2 L1006.5,341.2 L1004.4,342.2 L1002.2,343.1 L1000.1,344.1 L998.0,345.0 L995.8,345.9 L993.7,346.8 L991.6,347.7 L989.4,348.6 L987.3,349.5 L985.1,350.3 L983.0,351.2 L980.8,352.1 L978.6,353.0 L976.5,353.8 L974.3,354.7 L972.2,355.6 L970.0,356.4 L967.9,357.3 L965.7,358.2 L963.6,359.1 L961.4,360.0 L959.3,360.9 L957.1,361.8 L955.0,362.7 L952.9,363.7 L950.8,364.6 L948.6,365.6 L946.5,366.6 L944.4,367.5 L942.3,368.5 L940.2,369.5 L938.1,370.5 L936.0,371.5 L933.9,372.5 L931.8,373.5 L929.7,374.5 L927.6,375.5 L925.5,376.4 L923.4,377.4 L921.3,378.4 L919.2,379.4 L917.1,380.4 L915.0,381.4 L912.8,382.3 L910.7,383.3 L908.6,384.2 L906.5,385.2 L904.3,386.1 L902.2,387.0 L900.1,387.9 L897.9,388.8 L895.7,389.6 L893.6,390.5 L891.4,391.3 L889.2,392.2 L887.0,393.0 L884.9,393.8 L882.7,394.7 L880.5,395.5 L878.3,396.3 L876.2,397.2 L874.0,398.0 L871.8,398.9 L869.7,399.8 L867.5,400.7 L865.4,401.6 L863.3,402.5 L861.2,403.4 L859.1,404.4 L857.0,405.4 L854.9,406.4 L852.9,407.5 L850.8,408.5 L848.8,409.6 L846.7,410.7 L844.7,411.8 L842.6,412.9 L840.6,414.0 L838.6,415.1 L836.5,416.2 L834.5,417.4 L832.5,418.6 L830.5,419.7 L828.5,420.9 L826.5,422.1 L824.5,423.3 L822.5,424.5 L820.5,425.7 L818.5,426.9 L816.5,428.1 L814.5,429.3 L812.5,430.5 L810.5,431.8 L808.5,433.0 L806.5,434.2 L804.6,435.4 L802.6,436.6 L800.6,437.9 L798.6,439.1 L796.6,440.3 L794.6,441.5 L792.6,442.7 L790.6,443.9 L788.6,445.1 L786.6,446.2 L784.6,447.4 L782.6,448.6 L780.6,449.8 L778.6,450.9 L776.5,452.1 L774.5,453.3 L772.5,454.4 L770.5,455.6 L768.5,456.7 L766.5,457.9 L764.5,459.1 L762.4,460.3 L760.4,461.4 L758.4,462.6 L756.4,463.8 L754.4,465.0 L752.4,466.2 L750.4,467.4 L748.4,468.6 L746.5,469.8 L744.5,471.0 L742.5,472.2 L740.5,473.5 L738.6,474.7 L736.6,476.0 L734.7,477.2 L732.8,478.5 L730.8,479.8 L728.9,481.1 L727.0,482.4 L725.1,483.7 L723.2,485.0 L721.3,486.4 L719.4,487.7 L717.5,489.0 L715.6,490.4 L713.7,491.8 L711.8,493.1 L709.9,494.5 L708.1,495.9 L706.2,497.3 L704.3,498.7 L702.5,500.1 L700.6,501.5 L698.7,502.9 L696.9,504.3 L695.0,505.7 L693.2,507.1 L691.3,508.5 L689.5,509.9 L687.6,511.3 L685.7,512.7 L683.9,514.1 L682.0,515.5 L680.2,516.9 L678.3,518.3 L676.5,519.7 L674.6,521.1 L672.8,522.5 L670.9,523.9 L669.1,525.3 L667.2,526.7 L665.4,528.1 L663.5,529.5 L661.7,530.9 L659.8,532.4 L658.0,533.8 L656.2,535.2 L654.3,536.6 L652.5,538.1 L650.6,539.5 L648.8,540.9 L647.0,542.3 L645.1,543.8 L643.3,545.2 L641.5,546.6 L639.7,548.1 L637.8,549.5 L636.0,550.9 L634.2,552.4 L632.3,553.8 L630.5,555.3 L628.7,556.7 L626.8,558.1 L625.0,559.6 L623.2,561.0 L621.4,562.4 L619.5,563.9 L617.7,565.3 L615.9,566.7 L614.1,568.2 L612.2,569.6 L610.4,571.1 L608.6,572.5 L606.8,574.0 L605.0,575.4 L603.1,576.9 L601.3,578.3 L599.5,579.8 L597.7,581.2 L595.9,582.7 L594.0,584.1 L592.2,585.6 L590.4,587.0 L588.6,588.5 L586.8,589.9 L585.0,591.4 L583.2,592.8 L581.3,594.3 L579.5,595.7 L577.7,597.2 L575.9,598.7 L574.1,600.1 L572.3,601.6 L570.5,603.0 L568.7,604.5 L566.9,605.9 L565.0,607.4 L563.2,608.8 L561.4,610.3 L559.6,611.8 L557.8,613.2 L556.0,614.7 L554.2,616.1 L552.3,617.6 L550.5,619.0 L548.7,620.5 L546.9,622.0 L545.1,623.4 L543.3,624.9 L541.5,626.4 L539.7,627.8 L537.9,629.3 L536.1,630.8 L534.3,632.3 L532.6,633.8 L530.8,635.3 L529.0,636.8 L527.2,638.3 L525.5,639.8 L523.7,641.3 L522.0,642.9 L520.2,644.4 L518.5,645.9 L516.8,647.5 L515.0,649.0 L513.3,650.6 L511.6,652.1 L509.8,653.7 L508.1,655.2 L506.4,656.8 L504.7,658.4 L503.0,659.9 L501.2,661.5 L499.5,663.1 L497.8,664.7 L496.1,666.2 L494.4,667.8 L492.7,669.4 L491.0,671.0 L489.2,672.5 L487.5,674.1 L485.8,675.7 L484.1,677.2 L482.4,678.8 L480.6,680.3 L478.9,681.9 L477.2,683.5 L475.5,685.0 L473.8,686.6 L472.0,688.2 L470.3,689.7 L468.6,691.3 L466.9,692.9 L465.2,694.5 L463.5,696.0 L461.8,697.6 L460.0,699.2 L458.3,700.7 L456.6,702.3 L454.8,703.8 L453.1,705.3 L451.3,706.8 L449.6,708.4 L447.8,709.9 L446.0,711.3 L444.2,712.8 L442.3,714.2 L440.4,715.6 L438.6,717.0 L436.7,718.4 L434.9,719.9 L433.2,721.4 L431.4,722.9 L429.7,724.4 L428.0,726.0 L426.3,727.5 L424.6,729.1 L422.9,730.7 L421.3,732.3 L419.6,733.9 L417.9,735.5 L416.2,737.1 L414.6,738.7 L412.9,740.3 L411.3,741.9 L409.7,743.6 L408.0,745.2 L406.4,746.9 L404.8,748.6 L403.2,750.3 L401.6,752.0 L400.0,753.7 L398.5,755.4 L396.9,757.1 L395.3,758.9 L393.8,760.6 L392.3,762.4 L390.7,764.2 L389.2,765.9 L387.7,767.7 L386.3,769.6 L384.8,771.4 L383.3,773.2 L381.9,775.1 L380.5,776.9 L379.0,778.8 L377.6,780.7 L376.2,782.6 L374.9,784.6 L373.5,786.5" stroke="#5B9BD5" stroke-width="7.9"/>
<path d="M373.5,786.5 L375.8,786.0 L378.1,785.4 L380.4,784.9 L382.7,784.3 L385.0,783.8 L387.3,783.2 L389.6,782.7 L391.8,782.1 L394.1,781.6 L396.4,781.0 L398.7,780.5 L401.0,780.0 L403.3,779.4 L405.6,778.9 L407.9,778.3 L410.2,777.8 L412.5,777.2 L414.8,776.7 L417.1,776.1 L419.4,775.6 L421.7,775.1 L423.9,774.5 L426.2,774.0 L428.5,773.4 L430.8,772.9 L433.1,772.3 L435.4,771.8 L437.7,771.2 L440.0,770.7 L442.3,770.2 L444.6,769.6 L446.9,769.1 L449.2,768.5 L451.5,768.0 L453.8,767.4 L456.1,766.9 L458.3,766.3 L460.6,765.8 L462.9,765.3 L465.2,764.7 L467.5,764.2 L469.8,763.6 L472.1,763.1 L474.4,762.5 L476.7,762.0 L479.0,761.5 L481.3,760.9 L483.6,760.4 L485.9,759.8 L488.2,759.3 L490.5,758.7 L492.8,758.2 L495.0,757.7 L497.3,757.1 L499.6,756.6 L501.9,756.0 L504.2,755.5 L506.5,755.0 L508.8,754.4 L511.1,753.9 L513.4,753.3 L515.7,752.8 L518.0,752.2 L520.3,751.7 L522.6,751.2 L524.9,750.6 L527.2,750.1 L529.5,749.5 L531.7,749.0 L534.0,748.5 L536.3,747.9 L538.6,747.4 L540.9,746.8 L543.2,746.3 L545.5,745.8 L547.8,745.2 L550.1,744.7 L552.4,744.1 L554.7,743.6 L557.0,743.0 L559.3,742.5 L561.6,742.0 L563.9,741.4 L566.2,740.9 L568.4,740.3 L570.7,739.8 L573.0,739.2 L575.3,738.7 L577.6,738.2 L579.9,737.6 L582.2,737.1 L584.5,736.5 L586.8,736.0 L589.1,735.5 L591.4,734.9 L593.7,734.4 L596.0,733.9 L598.3,733.3 L600.6,732.8 L602.9,732.2 L605.2,731.7 L607.5,731.2 L609.8,730.6 L612.1,730.1 L614.3,729.6 L616.6,729.0 L618.9,728.5 L621.2,728.0 L623.5,727.4 L625.8,726.9 L628.1,726.3 L630.4,725.8 L632.7,725.2 L635.0,724.7 L637.3,724.1 L639.6,723.6 L641.9,723.0 L644.2,722.5 L646.4,721.9 L648.7,721.3 L651.0,720.8 L653.3,720.2 L655.6,719.6 L657.9,719.0 L660.2,718.5 L662.4,717.9 L664.7,717.3 L667.0,716.7 L669.3,716.1 L671.6,715.6 L673.9,715.0 L676.2,714.4 L678.4,713.8 L680.7,713.2 L683.0,712.6 L685.3,712.0 L687.6,711.4 L689.9,710.8 L692.1,710.2 L694.4,709.6 L696.7,708.9 L698.9,708.3 L701.2,707.7 L703.5,707.0 L705.7,706.3 L708.0,705.7 L710.2,705.0 L712.5,704.3 L714.7,703.6 L717.0,702.9 L719.2,702.1 L721.4,701.4 L723.7,700.6 L725.9,699.9 L728.1,699.1 L730.4,698.3 L732.6,697.5 L734.8,696.7 L737.0,695.9 L739.2,695.1 L741.4,694.2 L743.6,693.4 L745.8,692.5 L748.0,691.7 L750.2,690.8 L752.4,689.9 L754.6,689.0 L756.8,688.2 L759.0,687.3 L761.2,686.3 L763.3,685.4 L765.5,684.5 L767.6,683.6 L769.8,682.6 L771.9,681.7 L774.1,680.7 L776.2,679.7 L778.3,678.7 L780.5,677.7 L782.6,676.6 L784.7,675.6 L786.8,674.5 L788.9,673.5 L791.0,672.4 L793.1,671.3 L795.2,670.2 L797.3,669.1 L799.4,668.1 L801.5,667.0 L803.6,665.9 L805.7,664.8 L807.8,663.7 L809.9,662.6 L812.0,661.5 L814.1,660.5 L816.2,659.4 L818.3,658.4 L820.4,657.3 L822.5,656.3 L824.6,655.2 L826.7,654.2 L828.9,653.2 L831.0,652.1 L833.1,651.1 L835.2,650.1 L837.3,649.0 L839.5,648.0 L841.6,647.0 L843.7,645.9 L845.8,644.9 L847.9,643.9 L850.1,642.9 L852.2,641.8 L854.3,640.8 L856.4,639.8 L858.5,638.8 L860.7,637.7 L862.8,636.7 L864.9,635.7 L867.0,634.6 L869.1,633.6 L871.3,632.6 L873.4,631.6 L875.5,630.5 L877.6,629.5 L879.8,628.5 L881.9,627.5 L884.0,626.5 L886.1,625.4 L888.3,624.4 L890.4,623.4 L892.5,622.4 L894.7,621.4 L896.8,620.4 L898.9,619.4 L901.1,618.4 L903.2,617.4 L905.3,616.3 L907.4,615.3 L909.6,614.3 L911.7,613.3 L913.8,612.2 L915.9,611.2 L918.0,610.1 L920.1,609.0 L922.2,608.0 L924.3,606.9 L926.4,605.8 L928.5,604.7 L930.5,603.6 L932.6,602.4 L934.7,601.3 L936.7,600.2 L938.8,599.0 L940.9,597.9 L942.9,596.8 L945.0,595.6 L947.0,594.4 L949.1,593.3 L951.1,592.1 L953.2,590.9 L955.2,589.7 L957.2,588.5 L959.3,587.3 L961.3,586.1 L963.3,584.9 L965.3,583.7 L967.4,582.4 L969.4,581.2 L971.4,580.0 L973.4,578.7 L975.4,577.5 L977.3,576.2 L979.3,574.9 L981.3,573.7 L983.3,572.4 L985.2,571.1 L987.2,569.8 L989.1,568.5 L991.1,567.1 L993.0,565.8 L995.0,564.5 L996.9,563.1 L998.8,561.8 L1000.8,560.4 L1002.7,559.0 L1004.6,557.7 L1006.5,556.3 L1008.4,554.9 L1010.3,553.5 L1012.2,552.1 L1014.1,550.7 L1016.0,549.3 L1017.9,547.9 L1019.8,546.5 L1021.7,545.1 L1023.6,543.7 L1025.5,542.3 L1027.4,540.9 L1029.3,539.5 L1031.2,538.1 L1033.1,536.7 L1035.0,535.2 L1036.9,533.8 L1038.8,532.4 L1040.6,531.0 L1042.5,529.6 L1044.4,528.2 L1046.3,526.8 L1048.2,525.3 L1050.0,523.9 L1051.9,522.5 L1053.8,521.0 L1055.6,519.6 L1057.5,518.2 L1059.4,516.7 L1061.2,515.3 L1063.1,513.8 L1065.0,512.4 L1066.8,510.9 L1068.7,509.5 L1070.5,508.0 L1072.4,506.6 L1074.2,505.1 L1076.1,503.7 L1078.0,502.2 L1079.8,500.8 L1081.7,499.3 L1083.6,497.9 L1085.4,496.5 L1087.3,495.0 L1089.2,493.6 L1091.0,492.2 L1092.9,490.7 L1094.8,489.3 L1096.7,487.9 L1098.6,486.5 L1100.5,485.1 L1102.4,483.7 L1104.3,482.3 L1106.2,480.9 L1108.1,479.5 L1110.0,478.1 L1111.9,476.7 L1113.8,475.3 L1115.7,473.9 L1117.6,472.5 L1119.5,471.1 L1121.4,469.7 L1123.3,468.4 L1125.2,466.9 L1127.1,465.5 L1129.0,464.1 L1130.9,462.7 L1132.7,461.3 L1134.6,459.9 L1136.5,458.5 L1138.4,457.0 L1140.2,455.6 L1142.1,454.1 L1143.9,452.7 L1145.8,451.2 L1147.6,449.8 L1149.5,448.3 L1151.3,446.8 L1153.1,445.3 L1154.9,443.8 L1156.8,442.3 L1158.6,440.8 L1160.4,439.3 L1162.2,437.8 L1164.0,436.3 L1165.8,434.8 L1167.6,433.3 L1169.4,431.7 L1171.2,430.2 L1173.0,428.7 L1174.8,427.1 L1176.6,425.6 L1178.3,424.0 L1180.1,422.5 L1181.9,420.9 L1183.7,419.4 L1185.5,417.8 L1187.2,416.3 L1189.0,414.7 L1190.8,413.2 L1192.5,411.6 L1194.3,410.0 L1196.1,408.5 L1197.8,406.9 L1199.6,405.4 L1201.4,403.8 L1203.1,402.2 L1204.9,400.7 L1206.6,399.1 L1208.4,397.5 L1210.1,395.9 L1211.9,394.3 L1213.6,392.8 L1215.4,391.2 L1217.1,389.6 L1218.8,388.0 L1220.6,386.4 L1222.3,384.8 L1224.0,383.2 L1225.7,381.6 L1227.4,379.9 L1229.2,378.3 L1230.9,376.7 L1232.6,375.1 L1234.3,373.4 L1236.0,371.8 L1237.7,370.2 L1239.4,368.5 L1241.1,366.9 L1242.8,365.3 L1244.5,363.6 L1246.2,362.0 L1247.9,360.3 L1249.5,358.6 L1251.2,356.9 L1252.8,355.3 L1254.4,353.6 L1256.1,351.8 L1257.7,350.1 L1259.2,348.4 L1260.8,346.6 L1262.3,344.8 L1263.8,343.0 L1265.3,341.2 L1266.8,339.4 L1268.3,337.6 L1269.7,335.7 L1271.2,333.8 L1272.6,332.0 L1274.0,330.1 L1275.5,328.2 L1276.9,326.3 L1278.3,324.4 L1279.7,322.5 L1281.1,320.7 L1282.6,318.8 L1284.0,316.9 L1285.4,315.0 L1286.9,313.2 L1288.3,311.3 L1289.8,309.4 L1291.2,307.6 L1292.7,305.7 L1294.2,303.9 L1295.6,302.1 L1297.1,300.2 L1298.6,298.4 L1300.0,296.5 L1301.5,294.7 L1302.9,292.8 L1304.4,290.9 L1305.8,289.1 L1307.3,287.2 L1308.7,285.3 L1310.1,283.5 L1311.6,281.6 L1313.0,279.7 L1314.4,277.8 L1315.8,275.9 L1317.2,274.0 L1318.5,272.1 L1319.9,270.2 L1321.3,268.3 L1322.7,266.4 L1324.0,264.4 L1325.4,262.5 L1326.7,260.6 L1328.1,258.7 L1329.5,256.7 L1330.8,254.8 L1332.2,252.9 L1333.6,251.0 L1334.9,249.0 L1336.3,247.1 L1337.7,245.2 L1339.1,243.3 L1340.4,241.4 L1341.8,239.5 L1343.2,237.6 L1344.6,235.7 L1346.0,233.8 L1347.4,231.9 L1348.8,230.0 L1350.2,228.1 L1351.6,226.2 L1353.0,224.3 L1354.4,222.4 L1355.8,220.5 L1357.3,218.7 L1358.7,216.8 L1360.1,214.9 L1361.5,213.0" stroke="#5B9BD5" stroke-width="9.1"/>
<path d="M1355.3,206.3 L1353.3,207.5 L1351.4,208.5 L1349.5,209.4 L1347.5,210.3 L1345.6,211.1 L1343.7,211.7 L1341.8,212.3 L1339.9,212.8 L1338.0,213.2 L1336.2,213.5 L1334.4,213.7 L1332.9,214.3 L1331.3,214.9 L1329.5,215.6 L1327.5,216.3 L1325.4,216.9 L1323.2,217.6 L1320.8,218.4 L1318.6,219.1 L1316.4,219.9 L1314.2,220.6 L1312.1,221.3 L1309.9,222.0 L1307.7,222.7 L1305.5,223.3 L1303.3,224.0 L1301.1,224.7 L1298.9,225.4 L1296.7,226.1 L1294.5,226.9 L1292.3,227.7 L1290.1,228.5 L1287.9,229.4 L1285.7,230.2 L1283.5,231.0 L1281.3,231.9 L1279.1,232.7 L1277.0,233.5 L1274.8,234.4 L1272.6,235.2 L1270.4,236.0 L1268.2,236.8 L1266.1,237.7 L1263.9,238.5 L1261.7,239.3 L1259.5,240.1 L1257.3,241.0 L1255.1,241.7 L1252.9,242.4 L1250.7,243.1 L1248.5,243.9 L1246.3,244.6 L1244.1,245.3 L1241.9,246.1 L1239.7,246.8 L1237.5,247.5 L1235.3,248.2 L1233.0,248.9 L1230.8,249.6 L1228.6,250.3 L1226.4,251.0 L1224.1,251.8 L1221.9,252.5 L1219.6,253.3 L1217.4,254.0 L1215.2,254.8 L1212.9,255.6 L1210.7,256.4 L1208.5,257.2 L1206.3,258.0 L1204.0,258.9 L1201.9,259.7 L1199.7,260.6 L1197.5,261.4 L1195.3,262.2 L1193.1,263.0 L1190.8,263.8 L1188.7,264.5 L1186.5,265.3 L1184.3,266.1 L1182.1,266.8 L1179.9,267.6 L1177.7,268.4 L1175.5,269.1 L1173.3,269.9 L1171.1,270.7 L1168.9,271.5 L1166.7,272.2 L1164.5,273.0 L1162.3,273.8 L1160.1,274.6 L1158.0,275.3 L1155.8,276.1 L1153.6,276.9 L1151.4,277.6 L1149.3,278.3 L1147.1,279.0 L1144.9,279.7 L1142.7,280.4 L1140.5,281.1 L1138.3,281.8 L1136.1,282.4 L1133.9,283.1 L1131.7,283.7 L1129.4,284.4 L1127.2,285.0 L1124.9,285.7 L1122.7,286.4 L1120.4,287.1 L1118.2,287.8 L1115.9,288.5 L1113.7,289.2 L1111.4,290.0 L1109.2,290.7 L1107.0,291.5 L1104.7,292.3 L1102.5,293.2 L1100.3,294.0 L1098.1,294.9 L1095.9,295.8 L1093.7,296.6 L1091.6,297.5 L1089.4,298.4 L1087.2,299.3 L1085.1,300.2 L1082.9,301.1 L1080.8,302.0 L1078.6,302.9 L1076.5,303.8 L1074.3,304.7 L1072.2,305.6 L1070.1,306.5 L1067.9,307.4 L1065.8,308.3 L1063.6,309.2 L1061.5,310.2 L1059.3,311.1 L1057.2,312.0 L1055.0,312.9 L1052.9,313.9 L1050.7,314.8 L1048.6,315.7 L1046.5,316.7 L1044.3,317.6 L1042.2,318.6 L1040.1,319.5 L1037.9,320.5 L1035.8,321.4 L1033.7,322.4 L1031.5,323.3 L1029.4,324.3 L1027.3,325.3 L1025.2,326.3 L1023.1,327.3 L1020.9,328.3 L1018.8,329.3 L1016.7,330.3 L1014.7,331.3 L1012.6,332.3 L1010.5,333.3 L1008.4,334.3 L1006.3,335.3 L1004.2,336.2 L1002.1,337.2 L1000.0,338.1 L997.9,339.1 L995.8,340.0 L993.7,340.9 L991.6,341.8 L989.5,342.7 L987.4,343.6 L985.2,344.5 L983.1,345.3 L980.9,346.2 L978.8,347.1 L976.6,347.9 L974.5,348.8 L972.3,349.7 L970.1,350.6 L968.0,351.4 L965.8,352.3 L963.7,353.2 L961.5,354.1 L959.3,355.0 L957.2,356.0 L955.0,356.9 L952.9,357.8 L950.7,358.8 L948.6,359.7 L946.4,360.7 L944.3,361.7 L942.2,362.7 L940.1,363.7 L937.9,364.7 L935.8,365.7 L933.7,366.7 L931.6,367.7 L929.5,368.7 L927.4,369.7 L925.3,370.7 L923.2,371.6 L921.1,372.6 L919.0,373.6 L916.9,374.6 L914.8,375.6 L912.7,376.6 L910.6,377.5 L908.6,378.5 L906.5,379.4 L904.4,380.3 L902.3,381.3 L900.2,382.2 L898.0,383.0 L895.9,383.9 L893.8,384.8 L891.7,385.6 L889.5,386.4 L887.3,387.3 L885.2,388.1 L883.0,388.9 L880.8,389.8 L878.6,390.6 L876.5,391.5 L874.3,392.3 L872.1,393.2 L869.9,394.0 L867.7,394.9 L865.5,395.8 L863.3,396.8 L861.2,397.7 L859.0,398.7 L856.9,399.8 L854.8,400.9 L852.8,402.1 L850.7,403.2 L848.7,404.4 L846.7,405.6 L844.7,406.8 L842.7,408.1 L840.7,409.3 L838.7,410.5 L836.7,411.8 L834.7,413.1 L832.8,414.3 L830.8,415.6 L828.8,416.9 L826.9,418.2 L824.9,419.5 L823.0,420.8 L821.1,422.1 L819.1,423.4 L817.2,424.8 L815.3,426.1 L813.3,427.4 L811.4,428.7 L809.5,430.1 L807.6,431.4 L805.6,432.7 L803.7,434.1 L801.8,435.4 L799.9,436.7 L798.0,438.0 L796.0,439.4 L794.1,440.7 L792.2,442.0 L790.2,443.3 L788.3,444.6 L786.4,445.9 L784.4,447.2 L782.5,448.4 L780.5,449.7" stroke="#5B9BD5" stroke-width="7.800000000000001" stroke-dasharray="21.7 28.3" stroke-dashoffset="3"/>
<path d="M561.6,742.0 L563.9,741.4 L566.2,740.9 L568.4,740.3 L570.7,739.8 L573.0,739.2 L575.3,738.7 L577.6,738.2 L579.9,737.6 L582.2,737.1 L584.5,736.5 L586.8,736.0 L589.1,735.5 L591.4,734.9 L593.7,734.4 L596.0,733.9 L598.3,733.3 L600.6,732.8 L602.9,732.2 L605.1,731.6 L607.4,731.0 L609.7,730.4 L612.0,729.8 L614.3,729.2 L616.5,728.6 L618.8,728.0 L621.1,727.4 L623.4,726.8 L625.7,726.2 L627.9,725.6 L630.2,725.0 L632.5,724.4 L634.8,723.8 L637.1,723.2 L639.3,722.6 L641.6,722.0 L643.9,721.3 L646.2,720.7 L648.4,720.1 L650.7,719.5 L653.0,718.8 L655.2,718.2 L657.5,717.6 L659.8,716.9 L662.0,716.3 L664.3,715.7 L666.6,715.0 L668.9,714.4 L671.1,713.8 L673.4,713.1 L675.7,712.5 L677.9,711.8 L680.2,711.2 L682.5,710.5 L684.7,709.9 L687.0,709.2 L689.3,708.6 L691.5,707.9 L693.8,707.2 L696.0,706.5 L698.3,705.8 L700.5,705.1 L702.7,704.4 L705.0,703.7 L707.2,703.0 L709.4,702.2 L711.6,701.5 L713.8,700.7 L716.0,700.0 L718.2,699.2 L720.4,698.4 L722.6,697.6 L724.8,696.8 L727.0,695.9 L729.2,695.1 L731.4,694.3 L733.6,693.4 L735.8,692.5 L738.0,691.7 L740.1,690.8 L742.3,689.9 L744.5,689.0 L746.6,688.1 L748.8,687.2 L751.0,686.3 L753.1,685.3 L755.3,684.4 L757.4,683.4 L759.5,682.5 L761.7,681.5 L763.8,680.6 L765.9,679.6 L768.0,678.6 L770.1,677.6 L772.2,676.6 L774.3,675.6 L776.3,674.5 L778.4,673.5 L780.5,672.4 L782.5,671.3 L784.6,670.2 L786.7,669.1 L788.7,668.0 L790.8,666.9 L792.9,665.7 L794.9,664.6 L797.0,663.5 L799.1,662.4 L801.2,661.3 L803.3,660.2 L805.4,659.1 L807.5,658.0 L809.6,656.9 L811.7,655.8 L813.8,654.7 L816.0,653.7 L818.1,652.6 L820.2,651.6 L822.3,650.5 L824.4,649.5 L826.6,648.5 L828.7,647.4 L830.8,646.4 L832.9,645.3 L835.0,644.3 L837.2,643.3 L839.3,642.2 L841.4,641.2 L843.5,640.2 L845.6,639.2 L847.8,638.1 L849.9,637.1 L852.0,636.1 L854.1,635.0 L856.2,634.0 L858.4,633.0 L860.5,631.9 L862.6,630.9 L864.7,629.9 L866.8,628.9 L869.0,627.8 L871.1,626.8 L873.2,625.8 L875.3,624.7 L877.5,623.7 L879.6,622.7 L881.7,621.7 L883.9,620.6 L886.0,619.6 L888.1,618.6 L890.3,617.6 L892.4,616.6 L894.5,615.6 L896.7,614.6 L898.8,613.6 L900.9,612.5 L903.0,611.5 L905.1,610.5 L907.2,609.5 L909.3,608.5 L911.4,607.4 L913.5,606.4 L915.6,605.3 L917.7,604.3 L919.7,603.2 L921.8,602.1 L923.9,601.0 L925.9,599.9 L928.0,598.8 L930.0,597.7 L932.1,596.6 L934.1,595.5 L936.2,594.3 L938.2,593.2 L940.3,592.0 L942.3,590.9 L944.4,589.7 L946.4,588.6 L948.4,587.4 L950.5,586.2 L952.5,585.0 L954.5,583.9 L956.5,582.7 L958.5,581.5 L960.5,580.2 L962.5,579.0 L964.5,577.8 L966.5,576.6 L968.5,575.3 L970.5,574.1 L972.5,572.9 L974.4,571.6 L976.4,570.4 L978.3,569.1 L980.3,567.8 L982.2,566.5 L984.2,565.2 L986.1,563.9 L988.0,562.6 L989.9,561.3 L991.9,560.0 L993.8,558.7 L995.7,557.3 L997.6,556.0 L999.5,554.6 L1001.4,553.2 L1003.3,551.9 L1005.2,550.5 L1007.1,549.1 L1009.0,547.7 L1010.9,546.3 L1012.8,544.9 L1014.7,543.5 L1016.6,542.1 L1018.5,540.7 L1020.3,539.3 L1022.2,537.9 L1024.1,536.5 L1026.0,535.1 L1027.9,533.7 L1029.8,532.2 L1031.7,530.8 L1033.6,529.4 L1035.5,528.0 L1037.3,526.6 L1039.2,525.2 L1041.1,523.8 L1043.0,522.4 L1044.8,520.9 L1046.7,519.5 L1048.5,518.1 L1050.4,516.7 L1052.3,515.2 L1054.1,513.8 L1056.0,512.3 L1057.8,510.9 L1059.7,509.4 L1061.5,508.0 L1063.4,506.5 L1065.2,505.1 L1067.1,503.6 L1069.0,502.2 L1070.8,500.7 L1072.7,499.3 L1074.5,497.8 L1076.4,496.4 L1078.3,494.9 L1080.1,493.5 L1082.0,492.0 L1083.9,490.6 L1085.8,489.1 L1087.7,487.7 L1089.6,486.3 L1091.5,484.9 L1093.3,483.4 L1095.2,482.0 L1097.1,480.6 L1099.0,479.2 L1101.0,477.8 L1102.9,476.4 L1104.8,475.0 L1106.7,473.6 L1108.6,472.2 L1110.5,470.8 L1112.4,469.4 L1114.3,468.0 L1116.2,466.6 L1118.1,465.2 L1119.9,463.8 L1121.8,462.4 L1123.7,461.0 L1125.6,459.6 L1127.5,458.2 L1129.3,456.8 L1131.2,455.4 L1133.1,454.0 L1134.9,452.5 L1136.8,451.1 L1138.6,449.7 L1140.4,448.2 L1142.3,446.8 L1144.1,445.3 L1145.9,443.9 L1147.7,442.4 L1149.5,440.9 L1151.3,439.4 L1153.1,438.0 L1154.9,436.5 L1156.7,435.0 L1158.5,433.5 L1160.3,431.9 L1162.1,430.4 L1163.9,428.9 L1165.7,427.4 L1167.5,425.9 L1169.3,424.3 L1171.1,422.8 L1172.8,421.3 L1174.6,419.7 L1176.4,418.2 L1178.1,416.6 L1179.9,415.1 L1181.7,413.5 L1183.5,412.0 L1185.2,410.4 L1187.0,408.9 L1188.7,407.3 L1190.5,405.8 L1192.3,404.2 L1194.0,402.6 L1195.8,401.1 L1197.5,399.5 L1199.3,397.9 L1201.0,396.4 L1202.8,394.8 L1204.5,393.2 L1206.3,391.7 L1208.0,390.1 L1209.8,388.5 L1211.5,386.9 L1213.2,385.3 L1214.9,383.8 L1216.7,382.2 L1218.4,380.6 L1220.1,379.0 L1221.8,377.4 L1223.5,375.7 L1225.2,374.1 L1226.9,372.5 L1228.6,370.9 L1230.3,369.2 L1232.0,367.6 L1233.7,366.0 L1235.4,364.4 L1237.1,362.7 L1238.8,361.1 L1240.4,359.5 L1242.1,357.8 L1243.8,356.2 L1245.4,354.5 L1247.0,352.8 L1248.5,351.1 L1250.0,349.3 L1251.5,347.6 L1252.9,345.8 L1254.4,344.1 L1255.8,342.3 L1257.2,340.5 L1258.6,338.7 L1260.0,336.8 L1261.3,335.0 L1262.7,333.1 L1264.0,331.2 L1265.3,329.3 L1266.7,327.4 L1268.0,325.5 L1269.3,323.6 L1270.7,321.6 L1272.0,319.7 L1273.3,317.7 L1274.7,315.8 L1276.0,313.8 L1277.4,311.8 L1278.8,309.9 L1280.2,307.9 L1281.5,306.0 L1282.9,304.0 L1284.3,302.1 L1285.7,300.2 L1287.1,298.3 L1288.4,296.4 L1289.8,294.4 L1291.2,292.5 L1292.6,290.6 L1293.9,288.7 L1295.2,286.8 L1296.5,284.8 L1297.9,282.9 L1299.2,281.0 L1300.5,279.0 L1301.8,277.1 L1303.0,275.2 L1304.3,273.3 L1305.6,271.3 L1306.8,269.4 L1308.1,267.4 L1309.3,265.5 L1310.6,263.5 L1311.8,261.5 L1313.1,259.5 L1314.3,257.5 L1315.6,255.6 L1316.8,253.6 L1318.0,251.6 L1319.3,249.5 L1320.6,247.5 L1321.8,245.5 L1323.1,243.5 L1324.3,241.5 L1326.1,239.8 L1327.9,238.2 L1329.7,236.5 L1331.6,234.9 L1333.4,233.3 L1335.2,231.7 L1337.0,230.1 L1338.8,228.5 L1340.7,226.9 L1342.5,225.3 L1344.3,223.7 L1346.1,222.1 L1348.0,220.6 L1349.8,219.0 L1351.6,217.4 L1353.4,215.8 L1355.3,214.2 L1357.1,212.7 L1359.0,211.1" stroke="#5B9BD5" stroke-width="7.800000000000001" stroke-dasharray="21.7 28.3" stroke-dashoffset="30"/>
<path d="M1275.6,328.3 L1277.1,326.5 L1278.7,324.7 L1280.2,322.9 L1281.8,321.1 L1283.3,319.4 L1284.9,317.6 L1286.4,315.8 L1288.0,314.0 L1289.6,312.3 L1291.2,310.5 L1292.8,308.8 L1294.3,307.0 L1295.9,305.3 L1297.5,303.5 L1299.1,301.8 L1300.7,300.0 L1302.3,298.3 L1303.9,296.5 L1305.4,294.8 L1307.0,293.0 L1308.6,291.2 L1310.2,289.5 L1311.7,287.7 L1313.3,285.9 L1314.9,284.1 L1316.4,282.3 L1318.0,280.5 L1319.5,278.7 L1321.0,276.8 L1322.6,275.0 L1324.1,273.2 L1325.6,271.3 L1327.1,269.5 L1328.6,267.7 L1330.1,265.8 L1331.6,264.0 L1333.0,262.1 L1334.4,260.2 L1335.7,258.3 L1337.1,256.4 L1338.4,254.4 L1339.8,252.5 L1341.2,250.6 L1342.5,248.7 L1343.9,246.8 L1345.3,244.9 L1346.7,243.0 L1348.1,241.1 L1349.5,239.2 L1350.8,237.4 L1352.2,235.5 L1353.6,233.6 L1355.0,231.7 L1356.4,229.8 L1357.8,227.9 L1359.2,226.0 L1360.7,224.1 L1362.1,222.3 L1363.5,220.4 L1364.8,218.4 L1365.4,215.9" stroke="#5B9BD5" stroke-width="7.4"/>
<path d="M1206.6,399.1 L1208.3,397.4 L1210.0,395.8 L1211.7,394.2 L1213.4,392.5 L1215.1,390.9 L1216.8,389.3 L1218.5,387.6 L1220.2,386.0 L1221.9,384.3 L1223.5,382.6 L1225.2,381.0 L1226.9,379.3 L1228.5,377.6 L1230.2,376.0 L1231.8,374.3 L1233.5,372.6 L1235.1,370.9 L1236.8,369.2 L1238.5,367.6 L1240.1,365.9 L1241.8,364.2 L1243.4,362.5 L1245.0,360.8 L1246.7,359.1 L1248.3,357.4 L1249.9,355.7 L1251.4,353.9 L1253.0,352.2 L1254.5,350.4 L1256.1,348.7 L1257.6,346.9 L1259.1,345.1 L1260.5,343.3 L1261.9,341.5 L1263.4,339.6 L1264.8,337.8 L1266.2,335.9 L1267.5,334.0 L1268.9,332.1 L1270.3,330.2 L1271.6,328.3 L1273.0,326.4 L1274.3,324.4 L1275.7,322.5 L1277.0,320.5 L1278.4,318.6 L1279.8,316.6 L1281.1,314.7 L1282.5,312.8 L1283.9,310.8 L1285.3,308.9 L1286.7,307.0 L1288.1,305.1 L1289.5,303.2 L1290.9,301.3 L1292.3,299.4 L1293.7,297.5 L1295.1,295.6 L1296.5,293.7 L1297.9,291.8 L1299.2,289.9 L1300.6,288.0 L1302.0,286.1 L1303.4,284.2 L1304.7,282.3 L1306.1,280.4 L1307.4,278.5 L1308.7,276.5 L1310.0,274.6 L1311.4,272.7 L1312.6,270.7 L1313.9,268.8 L1315.2,266.8 L1316.4,264.8 L1317.7,262.8 L1318.9,260.8 L1320.2,258.8 L1321.4,256.8 L1322.7,254.8 L1323.9,252.8 L1325.2,250.8 L1326.4,248.8 L1327.7,246.8 L1328.9,244.8 L1330.2,242.8 L1331.5,240.7 L1332.8,238.7 L1334.1,236.7 L1335.4,234.8 L1336.9,232.9 L1338.3,231.1 L1339.8,229.2 L1341.2,227.3 L1342.7,225.5 L1344.2,223.6 L1345.6,221.8 L1347.1,219.9 L1348.6,218.1 L1350.1,216.2 L1351.5,214.4 L1353.0,212.5 L1354.5,210.7 L1356.9,209.5" stroke="#5B9BD5" stroke-width="7.4"/>
<path d="M1358.1,209.3 L1356.2,210.7 L1354.3,212.0 L1352.5,213.2 L1350.6,214.3 L1348.7,215.4 L1346.8,216.4 L1344.8,217.3 L1342.9,218.1 L1341.0,218.8 L1339.1,219.5 L1337.2,220.1 L1335.4,220.8 L1333.5,221.5 L1331.6,222.3 L1329.5,223.0 L1327.3,223.7 L1325.0,224.4 L1322.8,225.1 L1320.5,225.9 L1318.3,226.6 L1316.2,227.3 L1314.0,228.0 L1311.8,228.7 L1309.6,229.4 L1307.4,230.1 L1305.1,230.8 L1302.9,231.5 L1300.7,232.2 L1298.5,232.8 L1296.3,233.5 L1294.1,234.2 L1291.8,234.9 L1289.6,235.6 L1287.4,236.3 L1285.2,237.1 L1282.9,237.8 L1280.7,238.5 L1278.5,239.2 L1276.3,239.9 L1274.1,240.6 L1271.9,241.3 L1269.6,242.0 L1267.4,242.7 L1265.2,243.4 L1263.0,244.1 L1260.8,244.8 L1258.6,245.5 L1256.3,246.2 L1254.1,246.9 L1251.9,247.6 L1249.7,248.3 L1247.5,249.0 L1245.2,249.7 L1243.0,250.4 L1240.8,251.1 L1238.6,251.8 L1236.4,252.5 L1234.2,253.2 L1231.9,253.8 L1229.7,254.5 L1227.5,255.2 L1225.2,255.9 L1223.0,256.6 L1220.8,257.3 L1218.6,258.0 L1216.3,258.8 L1214.1,259.5 L1211.9,260.3 L1209.7,261.1 L1207.5,261.9 L1205.3,262.7 L1203.1,263.5 L1200.9,264.3 L1198.7,265.1 L1196.5,266.0 L1194.4,266.8 L1192.2,267.6 L1190.0,268.5 L1187.8,269.3 L1185.7,270.2 L1183.5,271.0 L1181.3,271.8 L1179.2,272.7 L1177.0,273.5 L1174.8,274.3 L1172.6,275.2 L1170.5,276.0 L1168.3,276.9 L1166.1,277.7 L1164.0,278.6 L1161.8,279.4 L1159.6,280.3 L1157.5,281.1 L1155.3,281.9 L1153.1,282.7 L1151.0,283.5 L1148.8,284.3 L1146.6,285.1 L1144.4,285.9 L1142.2,286.6" stroke="#5B9BD5" stroke-width="7.4"/>
</g>
<g class="tk">
<text x="89.8 113.3 125.0 147.6" y="589.2">– 30</text>
<text x="336.7 360.2 371.9 393.3" y="589.2">– 20</text>
<text x="583.6 607.1 621.5 641.7" y="589.2">– 10</text>
<text x="857.6" y="589.2">0</text>
<text x="1092.2 1118.7" y="589.2">10</text>
<text x="1339.2 1365.8" y="589.2">20</text>
<text x="1586.6 1612.7" y="589.2">30</text>
<text x="830" y="45.3" text-anchor="end">8</text>
<text x="830" y="167.3" text-anchor="end">6</text>
<text x="830" y="288.3" text-anchor="end">4</text>
<text x="830" y="410.3" text-anchor="end">2</text>
<text x="830" y="533.3" text-anchor="end">0</text>
<text x="830" y="655.3" text-anchor="end">– 2</text>
<text x="830" y="777.3" text-anchor="end">– 4</text>
<text x="830" y="899.3" text-anchor="end">– 6</text>
</g>
<g class="c">
<path d="M961.8,713 H1079.9" stroke="#ED7D31" stroke-width="7"/>
<path d="M961.8,798.6 H1079.9" stroke="#5B9BD5" stroke-width="7" stroke-dasharray="21.7 28.3"/>
</g>
<text class="lg" x="1096" y="731" textLength="282.5" lengthAdjust="spacing">Experimental</text>
<text class="lg" x="1096" y="816.3" textLength="505.5" lengthAdjust="spacing">Finite Element Analysis</text>
<text class="ttl" x="638.2 681.4 695 720.3 748.2 763.4 791.8 817.2 844.8 888.1 917.3 945.6 964.6 981.9 999 1042 1083" y="944.6">Displacement (mm)</text>
<text class="ttl" transform="translate(57.9,590) rotate(-90)" x="0.8 33.2 59.5 83 106.5 131.8 155.4 171.4 203.4 246.5" y="0">Force (kN)</text>
</svg>
</body></html>
